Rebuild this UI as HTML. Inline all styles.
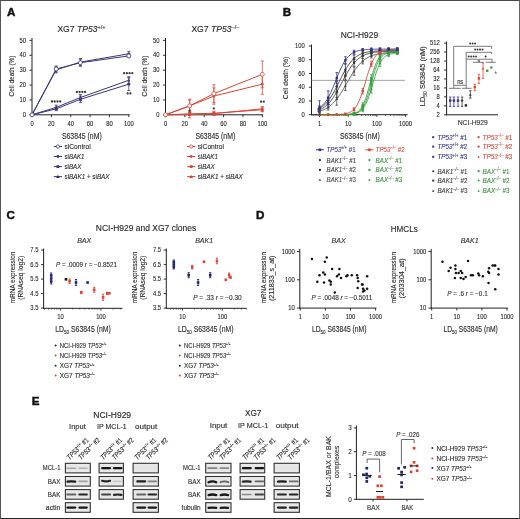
<!DOCTYPE html>
<html><head><meta charset="utf-8"><style>
html,body{margin:0;padding:0;background:#fff;}
body{width:520px;height:519px;overflow:hidden;position:relative;}
svg{position:absolute;left:0;top:0;display:block;font-family:"Liberation Sans",sans-serif;will-change:transform;filter:blur(0.3px);}
.frame{position:absolute;left:0;top:0;width:518px;height:517px;border-style:solid;border-width:1px;border-color:#4a4a4a #666 #262626 #555;}
</style></head><body>
<svg width="520" height="519" viewBox="0 0 520 519">
<defs><filter id="bl" filterUnits="userSpaceOnUse" x="0" y="380" width="520" height="139"><feGaussianBlur stdDeviation="0.5"/></filter><linearGradient id="bg" x1="0" y1="0" x2="0" y2="1"><stop offset="0" stop-color="#ececec"/><stop offset="0.5" stop-color="#e3e3e3"/><stop offset="1" stop-color="#ececec"/></linearGradient></defs>
<rect x="0" y="0" width="520" height="519" fill="#fff"/>
<text x="6.90" y="16.10" font-size="11.6" fill="#111" font-weight="bold" stroke="#111" stroke-width="0.45">A</text>
<text x="282.70" y="16.30" font-size="11.6" fill="#111" font-weight="bold" stroke="#111" stroke-width="0.45">B</text>
<text x="6.50" y="219.00" font-size="11.6" fill="#111" font-weight="bold" stroke="#111" stroke-width="0.45">C</text>
<text x="255.90" y="219.00" font-size="11.6" fill="#111" font-weight="bold" stroke="#111" stroke-width="0.45">D</text>
<text x="31.70" y="404.80" font-size="11.6" fill="#111" font-weight="bold" stroke="#111" stroke-width="0.45">E</text>
<text x="57.4" y="32.2" font-size="8.6" fill="#231f20" stroke="#231f20" stroke-width="0.12">XG7 <tspan font-style="italic">TP53</tspan><tspan font-size="5.6" dy="-3.2">+/+</tspan></text>
<text x="191.4" y="32.2" font-size="8.6" fill="#231f20" stroke="#231f20" stroke-width="0.12">XG7 <tspan font-style="italic">TP53</tspan><tspan font-size="5.6" dy="-3.2">&#8211;/&#8211;</tspan></text>
<line x1="32.00" y1="38.00" x2="32.00" y2="115.30" stroke="#231f20" stroke-width="1" />
<line x1="31.50" y1="114.80" x2="129.60" y2="114.80" stroke="#231f20" stroke-width="1" />
<line x1="29.40" y1="114.80" x2="32.00" y2="114.80" stroke="#231f20" stroke-width="0.9" />
<text x="26.00" y="116.90" font-size="7.0" fill="#2a2a2a" text-anchor="end" textLength="3.25" lengthAdjust="spacingAndGlyphs"  stroke="#2a2a2a" stroke-width="0.12">0</text>
<line x1="29.40" y1="99.92" x2="32.00" y2="99.92" stroke="#231f20" stroke-width="0.9" />
<text x="26.00" y="102.02" font-size="7.0" fill="#2a2a2a" text-anchor="end" textLength="6.50" lengthAdjust="spacingAndGlyphs"  stroke="#2a2a2a" stroke-width="0.12">10</text>
<line x1="29.40" y1="85.04" x2="32.00" y2="85.04" stroke="#231f20" stroke-width="0.9" />
<text x="26.00" y="87.14" font-size="7.0" fill="#2a2a2a" text-anchor="end" textLength="6.50" lengthAdjust="spacingAndGlyphs"  stroke="#2a2a2a" stroke-width="0.12">20</text>
<line x1="29.40" y1="70.16" x2="32.00" y2="70.16" stroke="#231f20" stroke-width="0.9" />
<text x="26.00" y="72.26" font-size="7.0" fill="#2a2a2a" text-anchor="end" textLength="6.50" lengthAdjust="spacingAndGlyphs"  stroke="#2a2a2a" stroke-width="0.12">30</text>
<line x1="29.40" y1="55.28" x2="32.00" y2="55.28" stroke="#231f20" stroke-width="0.9" />
<text x="26.00" y="57.38" font-size="7.0" fill="#2a2a2a" text-anchor="end" textLength="6.50" lengthAdjust="spacingAndGlyphs"  stroke="#2a2a2a" stroke-width="0.12">40</text>
<line x1="29.40" y1="40.40" x2="32.00" y2="40.40" stroke="#231f20" stroke-width="0.9" />
<text x="26.00" y="42.50" font-size="7.0" fill="#2a2a2a" text-anchor="end" textLength="6.50" lengthAdjust="spacingAndGlyphs"  stroke="#2a2a2a" stroke-width="0.12">50</text>
<line x1="32.00" y1="114.80" x2="32.00" y2="117.20" stroke="#231f20" stroke-width="0.9" />
<text x="32.00" y="125.80" font-size="7.0" fill="#2a2a2a" text-anchor="middle" textLength="3.25" lengthAdjust="spacingAndGlyphs"  stroke="#2a2a2a" stroke-width="0.12">0</text>
<line x1="51.36" y1="114.80" x2="51.36" y2="117.20" stroke="#231f20" stroke-width="0.9" />
<text x="51.36" y="125.80" font-size="7.0" fill="#2a2a2a" text-anchor="middle" textLength="6.50" lengthAdjust="spacingAndGlyphs"  stroke="#2a2a2a" stroke-width="0.12">20</text>
<line x1="70.72" y1="114.80" x2="70.72" y2="117.20" stroke="#231f20" stroke-width="0.9" />
<text x="70.72" y="125.80" font-size="7.0" fill="#2a2a2a" text-anchor="middle" textLength="6.50" lengthAdjust="spacingAndGlyphs"  stroke="#2a2a2a" stroke-width="0.12">40</text>
<line x1="90.08" y1="114.80" x2="90.08" y2="117.20" stroke="#231f20" stroke-width="0.9" />
<text x="90.08" y="125.80" font-size="7.0" fill="#2a2a2a" text-anchor="middle" textLength="6.50" lengthAdjust="spacingAndGlyphs"  stroke="#2a2a2a" stroke-width="0.12">60</text>
<line x1="109.44" y1="114.80" x2="109.44" y2="117.20" stroke="#231f20" stroke-width="0.9" />
<text x="109.44" y="125.80" font-size="7.0" fill="#2a2a2a" text-anchor="middle" textLength="6.50" lengthAdjust="spacingAndGlyphs"  stroke="#2a2a2a" stroke-width="0.12">80</text>
<line x1="128.80" y1="114.80" x2="128.80" y2="117.20" stroke="#231f20" stroke-width="0.9" />
<text x="128.80" y="125.80" font-size="7.0" fill="#2a2a2a" text-anchor="middle" textLength="9.75" lengthAdjust="spacingAndGlyphs"  stroke="#2a2a2a" stroke-width="0.12">100</text>
<text x="13.80" y="76.00" font-size="8.0" fill="#2a2a2a" text-anchor="middle" textLength="41.00" lengthAdjust="spacingAndGlyphs" transform="rotate(-90 13.80 76.00)"  stroke="#2a2a2a" stroke-width="0.12">Cell death (%)</text>
<text x="81.80" y="138.60" font-size="9.0" fill="#2a2a2a" text-anchor="middle" textLength="39.80" lengthAdjust="spacingAndGlyphs"  stroke="#2a2a2a" stroke-width="0.12">S63845 (nM)</text>
<polyline points="32.00,114.80 56.20,68.97 80.40,62.72 128.80,55.88" fill="none" stroke="#38377a" stroke-width="1.0" />
<polyline points="32.00,114.80 56.20,69.86 80.40,62.12 128.80,53.79" fill="none" stroke="#38377a" stroke-width="1.0" />
<polyline points="32.00,114.80 56.20,108.85 80.40,99.32 128.80,84.15" fill="none" stroke="#38377a" stroke-width="1.0" />
<polyline points="32.00,114.80 56.20,107.36 80.40,97.54 128.80,80.28" fill="none" stroke="#38377a" stroke-width="1.0" />
<line x1="56.20" y1="65.99" x2="56.20" y2="71.95" stroke="#38377a" stroke-width="0.75" />
<line x1="54.60" y1="65.99" x2="57.80" y2="65.99" stroke="#38377a" stroke-width="0.75" />
<line x1="54.60" y1="71.95" x2="57.80" y2="71.95" stroke="#38377a" stroke-width="0.75" />
<line x1="80.40" y1="59.15" x2="80.40" y2="66.29" stroke="#38377a" stroke-width="0.75" />
<line x1="78.80" y1="59.15" x2="82.00" y2="59.15" stroke="#38377a" stroke-width="0.75" />
<line x1="78.80" y1="66.29" x2="82.00" y2="66.29" stroke="#38377a" stroke-width="0.75" />
<line x1="128.80" y1="54.09" x2="128.80" y2="57.66" stroke="#38377a" stroke-width="0.75" />
<line x1="127.20" y1="54.09" x2="130.40" y2="54.09" stroke="#38377a" stroke-width="0.75" />
<line x1="127.20" y1="57.66" x2="130.40" y2="57.66" stroke="#38377a" stroke-width="0.75" />
<line x1="56.20" y1="66.89" x2="56.20" y2="72.84" stroke="#38377a" stroke-width="0.75" />
<line x1="54.60" y1="66.89" x2="57.80" y2="66.89" stroke="#38377a" stroke-width="0.75" />
<line x1="54.60" y1="72.84" x2="57.80" y2="72.84" stroke="#38377a" stroke-width="0.75" />
<line x1="80.40" y1="58.55" x2="80.40" y2="65.70" stroke="#38377a" stroke-width="0.75" />
<line x1="78.80" y1="58.55" x2="82.00" y2="58.55" stroke="#38377a" stroke-width="0.75" />
<line x1="78.80" y1="65.70" x2="82.00" y2="65.70" stroke="#38377a" stroke-width="0.75" />
<line x1="128.80" y1="51.41" x2="128.80" y2="56.17" stroke="#38377a" stroke-width="0.75" />
<line x1="127.20" y1="51.41" x2="130.40" y2="51.41" stroke="#38377a" stroke-width="0.75" />
<line x1="127.20" y1="56.17" x2="130.40" y2="56.17" stroke="#38377a" stroke-width="0.75" />
<line x1="56.20" y1="107.06" x2="56.20" y2="110.63" stroke="#38377a" stroke-width="0.75" />
<line x1="54.60" y1="107.06" x2="57.80" y2="107.06" stroke="#38377a" stroke-width="0.75" />
<line x1="54.60" y1="110.63" x2="57.80" y2="110.63" stroke="#38377a" stroke-width="0.75" />
<line x1="80.40" y1="96.05" x2="80.40" y2="102.60" stroke="#38377a" stroke-width="0.75" />
<line x1="78.80" y1="96.05" x2="82.00" y2="96.05" stroke="#38377a" stroke-width="0.75" />
<line x1="78.80" y1="102.60" x2="82.00" y2="102.60" stroke="#38377a" stroke-width="0.75" />
<line x1="128.80" y1="77.75" x2="128.80" y2="90.55" stroke="#38377a" stroke-width="0.75" />
<line x1="127.20" y1="77.75" x2="130.40" y2="77.75" stroke="#38377a" stroke-width="0.75" />
<line x1="127.20" y1="90.55" x2="130.40" y2="90.55" stroke="#38377a" stroke-width="0.75" />
<line x1="56.20" y1="105.13" x2="56.20" y2="109.59" stroke="#38377a" stroke-width="0.75" />
<line x1="54.60" y1="105.13" x2="57.80" y2="105.13" stroke="#38377a" stroke-width="0.75" />
<line x1="54.60" y1="109.59" x2="57.80" y2="109.59" stroke="#38377a" stroke-width="0.75" />
<line x1="80.40" y1="94.56" x2="80.40" y2="100.52" stroke="#38377a" stroke-width="0.75" />
<line x1="78.80" y1="94.56" x2="82.00" y2="94.56" stroke="#38377a" stroke-width="0.75" />
<line x1="78.80" y1="100.52" x2="82.00" y2="100.52" stroke="#38377a" stroke-width="0.75" />
<line x1="128.80" y1="76.71" x2="128.80" y2="83.85" stroke="#38377a" stroke-width="0.75" />
<line x1="127.20" y1="76.71" x2="130.40" y2="76.71" stroke="#38377a" stroke-width="0.75" />
<line x1="127.20" y1="83.85" x2="130.40" y2="83.85" stroke="#38377a" stroke-width="0.75" />
<path d="M56.20,105.76 l1.6,2.8 h-3.2z" fill="#38377a"/>
<path d="M80.40,95.94 l1.6,2.8 h-3.2z" fill="#38377a"/>
<path d="M128.80,78.68 l1.6,2.8 h-3.2z" fill="#38377a"/>
<rect x="54.90" y="107.55" width="2.60" height="2.60" fill="#38377a" />
<rect x="79.10" y="98.02" width="2.60" height="2.60" fill="#38377a" />
<rect x="127.50" y="82.85" width="2.60" height="2.60" fill="#38377a" />
<circle cx="56.20" cy="69.86" r="1.3" fill="#38377a"/>
<circle cx="80.40" cy="62.12" r="1.3" fill="#38377a"/>
<circle cx="128.80" cy="53.79" r="1.3" fill="#38377a"/>
<circle cx="56.20" cy="68.97" r="2.0" fill="#fff" stroke="#38377a" stroke-width="0.8"/>
<circle cx="80.40" cy="62.72" r="2.0" fill="#fff" stroke="#38377a" stroke-width="0.8"/>
<circle cx="128.80" cy="55.88" r="2.0" fill="#fff" stroke="#38377a" stroke-width="0.8"/>
<circle cx="32.00" cy="114.80" r="2.0" fill="#fff" stroke="#38377a" stroke-width="0.8"/>
<circle cx="51.98" cy="101.50" r="1.15" fill="#3a3a3a"/>
<circle cx="54.73" cy="101.50" r="1.15" fill="#3a3a3a"/>
<circle cx="57.48" cy="101.50" r="1.15" fill="#3a3a3a"/>
<circle cx="60.23" cy="101.50" r="1.15" fill="#3a3a3a"/>
<circle cx="76.88" cy="92.00" r="1.15" fill="#3a3a3a"/>
<circle cx="79.62" cy="92.00" r="1.15" fill="#3a3a3a"/>
<circle cx="82.38" cy="92.00" r="1.15" fill="#3a3a3a"/>
<circle cx="85.12" cy="92.00" r="1.15" fill="#3a3a3a"/>
<circle cx="124.07" cy="73.20" r="1.15" fill="#3a3a3a"/>
<circle cx="126.82" cy="73.20" r="1.15" fill="#3a3a3a"/>
<circle cx="129.57" cy="73.20" r="1.15" fill="#3a3a3a"/>
<circle cx="132.32" cy="73.20" r="1.15" fill="#3a3a3a"/>
<circle cx="127.62" cy="93.40" r="1.15" fill="#3a3a3a"/>
<circle cx="130.38" cy="93.40" r="1.15" fill="#3a3a3a"/>
<line x1="53.80" y1="146.50" x2="62.00" y2="146.50" stroke="#38377a" stroke-width="1" />
<circle cx="57.90" cy="146.50" r="1.6" fill="#fff" stroke="#38377a" stroke-width="0.8"/>
<text x="64.50" y="149.20" font-size="7.8" fill="#2a2a2a" textLength="26.20" lengthAdjust="spacingAndGlyphs"  stroke="#2a2a2a" stroke-width="0.12">siControl</text>
<line x1="53.80" y1="156.50" x2="62.00" y2="156.50" stroke="#38377a" stroke-width="1" />
<circle cx="57.90" cy="156.50" r="1.4" fill="#38377a"/>
<text x="64.50" y="159.20" font-size="7.8" fill="#2a2a2a" textLength="20.00" lengthAdjust="spacingAndGlyphs"  stroke="#2a2a2a" stroke-width="0.12">si<tspan font-style="italic">BAK1</tspan></text>
<line x1="53.80" y1="166.60" x2="62.00" y2="166.60" stroke="#38377a" stroke-width="1" />
<rect x="56.50" y="165.20" width="2.80" height="2.80" fill="#38377a" />
<text x="64.50" y="169.30" font-size="7.8" fill="#2a2a2a" textLength="16.90" lengthAdjust="spacingAndGlyphs"  stroke="#2a2a2a" stroke-width="0.12">si<tspan font-style="italic">BAX</tspan></text>
<line x1="53.80" y1="176.60" x2="62.00" y2="176.60" stroke="#38377a" stroke-width="1" />
<path d="M57.90,174.80 l1.8,3.1 h-3.6z" fill="#38377a"/>
<text x="64.50" y="179.30" font-size="7.8" fill="#2a2a2a" textLength="45.00" lengthAdjust="spacingAndGlyphs"  stroke="#2a2a2a" stroke-width="0.12">si<tspan font-style="italic">BAK1</tspan> + si<tspan font-style="italic">BAX</tspan></text>
<line x1="165.50" y1="38.00" x2="165.50" y2="115.30" stroke="#231f20" stroke-width="1" />
<line x1="165.00" y1="114.80" x2="263.10" y2="114.80" stroke="#231f20" stroke-width="1" />
<line x1="162.90" y1="114.80" x2="165.50" y2="114.80" stroke="#231f20" stroke-width="0.9" />
<text x="159.50" y="116.90" font-size="7.0" fill="#2a2a2a" text-anchor="end" textLength="3.25" lengthAdjust="spacingAndGlyphs"  stroke="#2a2a2a" stroke-width="0.12">0</text>
<line x1="162.90" y1="99.92" x2="165.50" y2="99.92" stroke="#231f20" stroke-width="0.9" />
<text x="159.50" y="102.02" font-size="7.0" fill="#2a2a2a" text-anchor="end" textLength="6.50" lengthAdjust="spacingAndGlyphs"  stroke="#2a2a2a" stroke-width="0.12">10</text>
<line x1="162.90" y1="85.04" x2="165.50" y2="85.04" stroke="#231f20" stroke-width="0.9" />
<text x="159.50" y="87.14" font-size="7.0" fill="#2a2a2a" text-anchor="end" textLength="6.50" lengthAdjust="spacingAndGlyphs"  stroke="#2a2a2a" stroke-width="0.12">20</text>
<line x1="162.90" y1="70.16" x2="165.50" y2="70.16" stroke="#231f20" stroke-width="0.9" />
<text x="159.50" y="72.26" font-size="7.0" fill="#2a2a2a" text-anchor="end" textLength="6.50" lengthAdjust="spacingAndGlyphs"  stroke="#2a2a2a" stroke-width="0.12">30</text>
<line x1="162.90" y1="55.28" x2="165.50" y2="55.28" stroke="#231f20" stroke-width="0.9" />
<text x="159.50" y="57.38" font-size="7.0" fill="#2a2a2a" text-anchor="end" textLength="6.50" lengthAdjust="spacingAndGlyphs"  stroke="#2a2a2a" stroke-width="0.12">40</text>
<line x1="162.90" y1="40.40" x2="165.50" y2="40.40" stroke="#231f20" stroke-width="0.9" />
<text x="159.50" y="42.50" font-size="7.0" fill="#2a2a2a" text-anchor="end" textLength="6.50" lengthAdjust="spacingAndGlyphs"  stroke="#2a2a2a" stroke-width="0.12">50</text>
<line x1="165.50" y1="114.80" x2="165.50" y2="117.20" stroke="#231f20" stroke-width="0.9" />
<text x="165.50" y="125.80" font-size="7.0" fill="#2a2a2a" text-anchor="middle" textLength="3.25" lengthAdjust="spacingAndGlyphs"  stroke="#2a2a2a" stroke-width="0.12">0</text>
<line x1="184.86" y1="114.80" x2="184.86" y2="117.20" stroke="#231f20" stroke-width="0.9" />
<text x="184.86" y="125.80" font-size="7.0" fill="#2a2a2a" text-anchor="middle" textLength="6.50" lengthAdjust="spacingAndGlyphs"  stroke="#2a2a2a" stroke-width="0.12">20</text>
<line x1="204.22" y1="114.80" x2="204.22" y2="117.20" stroke="#231f20" stroke-width="0.9" />
<text x="204.22" y="125.80" font-size="7.0" fill="#2a2a2a" text-anchor="middle" textLength="6.50" lengthAdjust="spacingAndGlyphs"  stroke="#2a2a2a" stroke-width="0.12">40</text>
<line x1="223.58" y1="114.80" x2="223.58" y2="117.20" stroke="#231f20" stroke-width="0.9" />
<text x="223.58" y="125.80" font-size="7.0" fill="#2a2a2a" text-anchor="middle" textLength="6.50" lengthAdjust="spacingAndGlyphs"  stroke="#2a2a2a" stroke-width="0.12">60</text>
<line x1="242.94" y1="114.80" x2="242.94" y2="117.20" stroke="#231f20" stroke-width="0.9" />
<text x="242.94" y="125.80" font-size="7.0" fill="#2a2a2a" text-anchor="middle" textLength="6.50" lengthAdjust="spacingAndGlyphs"  stroke="#2a2a2a" stroke-width="0.12">80</text>
<line x1="262.30" y1="114.80" x2="262.30" y2="117.20" stroke="#231f20" stroke-width="0.9" />
<text x="262.30" y="125.80" font-size="7.0" fill="#2a2a2a" text-anchor="middle" textLength="9.75" lengthAdjust="spacingAndGlyphs"  stroke="#2a2a2a" stroke-width="0.12">100</text>
<text x="147.30" y="76.00" font-size="8.0" fill="#2a2a2a" text-anchor="middle" textLength="41.00" lengthAdjust="spacingAndGlyphs" transform="rotate(-90 147.30 76.00)"  stroke="#2a2a2a" stroke-width="0.12">Cell death (%)</text>
<text x="215.30" y="138.60" font-size="9.0" fill="#2a2a2a" text-anchor="middle" textLength="39.80" lengthAdjust="spacingAndGlyphs"  stroke="#2a2a2a" stroke-width="0.12">S63845 (nM)</text>
<polyline points="165.50,114.80 189.70,105.87 213.90,93.67 262.30,74.33" fill="none" stroke="#dc4535" stroke-width="1.0" />
<polyline points="165.50,114.80 189.70,105.87 213.90,96.05 262.30,84.15" fill="none" stroke="#dc4535" stroke-width="1.0" />
<polyline points="165.50,114.80 189.70,113.91 213.90,113.31 262.30,109.74" fill="none" stroke="#dc4535" stroke-width="1.0" />
<polyline points="165.50,114.80 189.70,114.35 213.90,113.61 262.30,108.85" fill="none" stroke="#dc4535" stroke-width="1.0" />
<line x1="189.70" y1="99.18" x2="189.70" y2="112.57" stroke="#dc4535" stroke-width="0.75" />
<line x1="188.10" y1="99.18" x2="191.30" y2="99.18" stroke="#dc4535" stroke-width="0.75" />
<line x1="188.10" y1="112.57" x2="191.30" y2="112.57" stroke="#dc4535" stroke-width="0.75" />
<line x1="213.90" y1="84.74" x2="213.90" y2="102.60" stroke="#dc4535" stroke-width="0.75" />
<line x1="212.30" y1="84.74" x2="215.50" y2="84.74" stroke="#dc4535" stroke-width="0.75" />
<line x1="212.30" y1="102.60" x2="215.50" y2="102.60" stroke="#dc4535" stroke-width="0.75" />
<line x1="262.30" y1="60.93" x2="262.30" y2="87.72" stroke="#dc4535" stroke-width="0.75" />
<line x1="260.70" y1="60.93" x2="263.90" y2="60.93" stroke="#dc4535" stroke-width="0.75" />
<line x1="260.70" y1="87.72" x2="263.90" y2="87.72" stroke="#dc4535" stroke-width="0.75" />
<line x1="189.70" y1="99.92" x2="189.70" y2="111.82" stroke="#dc4535" stroke-width="0.75" />
<line x1="188.10" y1="99.92" x2="191.30" y2="99.92" stroke="#dc4535" stroke-width="0.75" />
<line x1="188.10" y1="111.82" x2="191.30" y2="111.82" stroke="#dc4535" stroke-width="0.75" />
<line x1="213.90" y1="87.87" x2="213.90" y2="104.24" stroke="#dc4535" stroke-width="0.75" />
<line x1="212.30" y1="87.87" x2="215.50" y2="87.87" stroke="#dc4535" stroke-width="0.75" />
<line x1="212.30" y1="104.24" x2="215.50" y2="104.24" stroke="#dc4535" stroke-width="0.75" />
<line x1="262.30" y1="74.03" x2="262.30" y2="94.27" stroke="#dc4535" stroke-width="0.75" />
<line x1="260.70" y1="74.03" x2="263.90" y2="74.03" stroke="#dc4535" stroke-width="0.75" />
<line x1="260.70" y1="94.27" x2="263.90" y2="94.27" stroke="#dc4535" stroke-width="0.75" />
<line x1="189.70" y1="112.42" x2="189.70" y2="115.40" stroke="#dc4535" stroke-width="0.75" />
<line x1="188.10" y1="112.42" x2="191.30" y2="112.42" stroke="#dc4535" stroke-width="0.75" />
<line x1="188.10" y1="115.40" x2="191.30" y2="115.40" stroke="#dc4535" stroke-width="0.75" />
<line x1="213.90" y1="111.23" x2="213.90" y2="115.40" stroke="#dc4535" stroke-width="0.75" />
<line x1="212.30" y1="111.23" x2="215.50" y2="111.23" stroke="#dc4535" stroke-width="0.75" />
<line x1="212.30" y1="115.40" x2="215.50" y2="115.40" stroke="#dc4535" stroke-width="0.75" />
<line x1="262.30" y1="107.66" x2="262.30" y2="111.82" stroke="#dc4535" stroke-width="0.75" />
<line x1="260.70" y1="107.66" x2="263.90" y2="107.66" stroke="#dc4535" stroke-width="0.75" />
<line x1="260.70" y1="111.82" x2="263.90" y2="111.82" stroke="#dc4535" stroke-width="0.75" />
<line x1="189.70" y1="110.78" x2="189.70" y2="117.92" stroke="#dc4535" stroke-width="0.75" />
<line x1="188.10" y1="110.78" x2="191.30" y2="110.78" stroke="#dc4535" stroke-width="0.75" />
<line x1="188.10" y1="117.92" x2="191.30" y2="117.92" stroke="#dc4535" stroke-width="0.75" />
<line x1="213.90" y1="112.12" x2="213.90" y2="115.10" stroke="#dc4535" stroke-width="0.75" />
<line x1="212.30" y1="112.12" x2="215.50" y2="112.12" stroke="#dc4535" stroke-width="0.75" />
<line x1="212.30" y1="115.10" x2="215.50" y2="115.10" stroke="#dc4535" stroke-width="0.75" />
<line x1="262.30" y1="106.47" x2="262.30" y2="111.23" stroke="#dc4535" stroke-width="0.75" />
<line x1="260.70" y1="106.47" x2="263.90" y2="106.47" stroke="#dc4535" stroke-width="0.75" />
<line x1="260.70" y1="111.23" x2="263.90" y2="111.23" stroke="#dc4535" stroke-width="0.75" />
<path d="M189.70,112.75 l1.6,2.8 h-3.2z" fill="#dc4535"/>
<path d="M213.90,112.01 l1.6,2.8 h-3.2z" fill="#dc4535"/>
<path d="M262.30,107.25 l1.6,2.8 h-3.2z" fill="#dc4535"/>
<rect x="188.40" y="112.61" width="2.60" height="2.60" fill="#dc4535" />
<rect x="212.60" y="112.01" width="2.60" height="2.60" fill="#dc4535" />
<rect x="261.00" y="108.44" width="2.60" height="2.60" fill="#dc4535" />
<circle cx="189.70" cy="105.87" r="1.3" fill="#dc4535"/>
<circle cx="213.90" cy="96.05" r="1.3" fill="#dc4535"/>
<circle cx="262.30" cy="84.15" r="1.3" fill="#dc4535"/>
<circle cx="189.70" cy="105.87" r="2.0" fill="#fff" stroke="#dc4535" stroke-width="0.8"/>
<circle cx="213.90" cy="93.67" r="2.0" fill="#fff" stroke="#dc4535" stroke-width="0.8"/>
<circle cx="262.30" cy="74.33" r="2.0" fill="#fff" stroke="#dc4535" stroke-width="0.8"/>
<circle cx="165.50" cy="114.80" r="2.0" fill="#fff" stroke="#dc4535" stroke-width="0.8"/>
<circle cx="189.70" cy="110.60" r="1.15" fill="#3a3a3a"/>
<circle cx="261.02" cy="101.70" r="1.15" fill="#3a3a3a"/>
<circle cx="263.77" cy="101.70" r="1.15" fill="#3a3a3a"/>
<circle cx="213.80" cy="108.40" r="1.15" fill="#3a3a3a"/>
<line x1="187.10" y1="146.50" x2="195.30" y2="146.50" stroke="#dc4535" stroke-width="1" />
<circle cx="191.20" cy="146.50" r="1.6" fill="#fff" stroke="#dc4535" stroke-width="0.8"/>
<text x="197.80" y="149.20" font-size="7.8" fill="#2a2a2a" textLength="26.20" lengthAdjust="spacingAndGlyphs"  stroke="#2a2a2a" stroke-width="0.12">siControl</text>
<line x1="187.10" y1="156.50" x2="195.30" y2="156.50" stroke="#dc4535" stroke-width="1" />
<circle cx="191.20" cy="156.50" r="1.4" fill="#dc4535"/>
<text x="197.80" y="159.20" font-size="7.8" fill="#2a2a2a" textLength="20.00" lengthAdjust="spacingAndGlyphs"  stroke="#2a2a2a" stroke-width="0.12">si<tspan font-style="italic">BAK1</tspan></text>
<line x1="187.10" y1="166.60" x2="195.30" y2="166.60" stroke="#dc4535" stroke-width="1" />
<rect x="189.80" y="165.20" width="2.80" height="2.80" fill="#dc4535" />
<text x="197.80" y="169.30" font-size="7.8" fill="#2a2a2a" textLength="16.90" lengthAdjust="spacingAndGlyphs"  stroke="#2a2a2a" stroke-width="0.12">si<tspan font-style="italic">BAX</tspan></text>
<line x1="187.10" y1="176.60" x2="195.30" y2="176.60" stroke="#dc4535" stroke-width="1" />
<path d="M191.20,174.80 l1.8,3.1 h-3.6z" fill="#dc4535"/>
<text x="197.80" y="179.30" font-size="7.8" fill="#2a2a2a" textLength="45.00" lengthAdjust="spacingAndGlyphs"  stroke="#2a2a2a" stroke-width="0.12">si<tspan font-style="italic">BAK1</tspan> + si<tspan font-style="italic">BAX</tspan></text>
<text x="359.40" y="37.80" font-size="8.6" fill="#231f20" text-anchor="middle" textLength="37.40" lengthAdjust="spacingAndGlyphs"  stroke="#231f20" stroke-width="0.12">NCI-H929</text>
<line x1="311.50" y1="44.50" x2="311.50" y2="115.20" stroke="#231f20" stroke-width="1" />
<line x1="311.00" y1="114.70" x2="407.60" y2="114.70" stroke="#231f20" stroke-width="1" />
<line x1="308.90" y1="114.70" x2="311.50" y2="114.70" stroke="#231f20" stroke-width="0.9" />
<text x="304.70" y="116.80" font-size="7.0" fill="#2a2a2a" text-anchor="end" textLength="3.25" lengthAdjust="spacingAndGlyphs"  stroke="#2a2a2a" stroke-width="0.12">0</text>
<line x1="308.90" y1="100.96" x2="311.50" y2="100.96" stroke="#231f20" stroke-width="0.9" />
<text x="304.70" y="103.06" font-size="7.0" fill="#2a2a2a" text-anchor="end" textLength="6.50" lengthAdjust="spacingAndGlyphs"  stroke="#2a2a2a" stroke-width="0.12">20</text>
<line x1="308.90" y1="87.22" x2="311.50" y2="87.22" stroke="#231f20" stroke-width="0.9" />
<text x="304.70" y="89.32" font-size="7.0" fill="#2a2a2a" text-anchor="end" textLength="6.50" lengthAdjust="spacingAndGlyphs"  stroke="#2a2a2a" stroke-width="0.12">40</text>
<line x1="308.90" y1="73.48" x2="311.50" y2="73.48" stroke="#231f20" stroke-width="0.9" />
<text x="304.70" y="75.58" font-size="7.0" fill="#2a2a2a" text-anchor="end" textLength="6.50" lengthAdjust="spacingAndGlyphs"  stroke="#2a2a2a" stroke-width="0.12">60</text>
<line x1="308.90" y1="59.74" x2="311.50" y2="59.74" stroke="#231f20" stroke-width="0.9" />
<text x="304.70" y="61.84" font-size="7.0" fill="#2a2a2a" text-anchor="end" textLength="6.50" lengthAdjust="spacingAndGlyphs"  stroke="#2a2a2a" stroke-width="0.12">80</text>
<line x1="308.90" y1="46.00" x2="311.50" y2="46.00" stroke="#231f20" stroke-width="0.9" />
<text x="304.70" y="48.10" font-size="7.0" fill="#2a2a2a" text-anchor="end" textLength="9.75" lengthAdjust="spacingAndGlyphs"  stroke="#2a2a2a" stroke-width="0.12">100</text>
<line x1="313.13" y1="114.70" x2="313.13" y2="116.00" stroke="#231f20" stroke-width="0.6" />
<line x1="315.05" y1="114.70" x2="315.05" y2="116.00" stroke="#231f20" stroke-width="0.6" />
<line x1="316.72" y1="114.70" x2="316.72" y2="116.00" stroke="#231f20" stroke-width="0.6" />
<line x1="318.19" y1="114.70" x2="318.19" y2="116.00" stroke="#231f20" stroke-width="0.6" />
<line x1="319.50" y1="114.70" x2="319.50" y2="117.10" stroke="#231f20" stroke-width="0.8" />
<line x1="328.14" y1="114.70" x2="328.14" y2="116.00" stroke="#231f20" stroke-width="0.6" />
<line x1="333.19" y1="114.70" x2="333.19" y2="116.00" stroke="#231f20" stroke-width="0.6" />
<line x1="336.78" y1="114.70" x2="336.78" y2="116.00" stroke="#231f20" stroke-width="0.6" />
<line x1="339.56" y1="114.70" x2="339.56" y2="116.00" stroke="#231f20" stroke-width="0.6" />
<line x1="341.83" y1="114.70" x2="341.83" y2="116.00" stroke="#231f20" stroke-width="0.6" />
<line x1="343.75" y1="114.70" x2="343.75" y2="116.00" stroke="#231f20" stroke-width="0.6" />
<line x1="345.42" y1="114.70" x2="345.42" y2="116.00" stroke="#231f20" stroke-width="0.6" />
<line x1="346.89" y1="114.70" x2="346.89" y2="116.00" stroke="#231f20" stroke-width="0.6" />
<line x1="348.20" y1="114.70" x2="348.20" y2="117.10" stroke="#231f20" stroke-width="0.8" />
<line x1="356.84" y1="114.70" x2="356.84" y2="116.00" stroke="#231f20" stroke-width="0.6" />
<line x1="361.89" y1="114.70" x2="361.89" y2="116.00" stroke="#231f20" stroke-width="0.6" />
<line x1="365.48" y1="114.70" x2="365.48" y2="116.00" stroke="#231f20" stroke-width="0.6" />
<line x1="368.26" y1="114.70" x2="368.26" y2="116.00" stroke="#231f20" stroke-width="0.6" />
<line x1="370.53" y1="114.70" x2="370.53" y2="116.00" stroke="#231f20" stroke-width="0.6" />
<line x1="372.45" y1="114.70" x2="372.45" y2="116.00" stroke="#231f20" stroke-width="0.6" />
<line x1="374.12" y1="114.70" x2="374.12" y2="116.00" stroke="#231f20" stroke-width="0.6" />
<line x1="375.59" y1="114.70" x2="375.59" y2="116.00" stroke="#231f20" stroke-width="0.6" />
<line x1="376.90" y1="114.70" x2="376.90" y2="117.10" stroke="#231f20" stroke-width="0.8" />
<line x1="385.54" y1="114.70" x2="385.54" y2="116.00" stroke="#231f20" stroke-width="0.6" />
<line x1="390.59" y1="114.70" x2="390.59" y2="116.00" stroke="#231f20" stroke-width="0.6" />
<line x1="394.18" y1="114.70" x2="394.18" y2="116.00" stroke="#231f20" stroke-width="0.6" />
<line x1="396.96" y1="114.70" x2="396.96" y2="116.00" stroke="#231f20" stroke-width="0.6" />
<line x1="399.23" y1="114.70" x2="399.23" y2="116.00" stroke="#231f20" stroke-width="0.6" />
<line x1="401.15" y1="114.70" x2="401.15" y2="116.00" stroke="#231f20" stroke-width="0.6" />
<line x1="402.82" y1="114.70" x2="402.82" y2="116.00" stroke="#231f20" stroke-width="0.6" />
<line x1="404.29" y1="114.70" x2="404.29" y2="116.00" stroke="#231f20" stroke-width="0.6" />
<line x1="405.60" y1="114.70" x2="405.60" y2="117.10" stroke="#231f20" stroke-width="0.8" />
<text x="319.50" y="125.80" font-size="7.0" fill="#2a2a2a" text-anchor="middle" textLength="3.25" lengthAdjust="spacingAndGlyphs"  stroke="#2a2a2a" stroke-width="0.12">1</text>
<text x="348.20" y="125.80" font-size="7.0" fill="#2a2a2a" text-anchor="middle" textLength="6.50" lengthAdjust="spacingAndGlyphs"  stroke="#2a2a2a" stroke-width="0.12">10</text>
<text x="376.90" y="125.80" font-size="7.0" fill="#2a2a2a" text-anchor="middle" textLength="9.75" lengthAdjust="spacingAndGlyphs"  stroke="#2a2a2a" stroke-width="0.12">100</text>
<text x="405.60" y="125.80" font-size="7.0" fill="#2a2a2a" text-anchor="middle" textLength="13.00" lengthAdjust="spacingAndGlyphs"  stroke="#2a2a2a" stroke-width="0.12">1000</text>
<text x="288.10" y="78.00" font-size="8.0" fill="#2a2a2a" text-anchor="middle" textLength="42.30" lengthAdjust="spacingAndGlyphs" transform="rotate(-90 288.10 78.00)"  stroke="#2a2a2a" stroke-width="0.12">Cell death (%)</text>
<text x="359.80" y="138.60" font-size="9.0" fill="#2a2a2a" text-anchor="middle" textLength="39.80" lengthAdjust="spacingAndGlyphs"  stroke="#2a2a2a" stroke-width="0.12">S63845 (nM)</text>
<line x1="311.50" y1="80.35" x2="405.00" y2="80.35" stroke="#8a8a8a" stroke-width="0.8" />
<polyline points="317.47,109.62 318.08,109.34 318.69,109.03 319.30,108.71 319.91,108.37 320.51,108.00 321.12,107.61 321.73,107.19 322.34,106.74 322.95,106.27 323.56,105.76 324.16,105.23 324.77,104.66 325.38,104.06 325.99,103.43 326.60,102.76 327.20,102.05 327.81,101.31 328.42,100.53 329.03,99.72 329.64,98.87 330.25,97.98 330.85,97.06 331.46,96.10 332.07,95.11 332.68,94.08 333.29,93.02 333.89,91.94 334.50,90.82 335.11,89.68 335.72,88.52 336.33,87.34 336.93,86.14 337.54,84.93 338.15,83.71 338.76,82.49 339.37,81.26 339.98,80.03 340.58,78.82 341.19,77.61 341.80,76.41 342.41,75.23 343.02,74.07 343.62,72.93 344.23,71.81 344.84,70.73 345.45,69.67 346.06,68.65 346.66,67.65 347.27,66.70 347.88,65.77 348.49,64.89 349.10,64.04 349.71,63.23 350.31,62.45 350.92,61.71 351.53,61.01 352.14,60.34 352.75,59.71 353.35,59.11 353.96,58.54 354.57,58.01 355.18,57.51 355.79,57.03 356.39,56.59 357.00,56.17 357.61,55.78 358.22,55.41 358.83,55.07 359.44,54.74 360.04,54.44 360.65,54.16 361.26,53.90 361.87,53.66 362.48,53.43 363.08,53.21 363.69,53.02 364.30,52.83 364.91,52.66 365.52,52.50 366.12,52.35 366.73,52.21 367.34,52.09 367.95,51.97 368.56,51.86 369.17,51.76 369.77,51.66 370.38,51.57 370.99,51.49 371.60,51.41 372.21,51.34 372.81,51.28 373.42,51.22 374.03,51.16 374.64,51.11 375.25,51.06 375.86,51.02 376.46,50.98 377.07,50.94 377.68,50.90 378.29,50.87 378.90,50.84 379.50,50.81 380.11,50.79 380.72,50.76 381.33,50.74 381.94,50.72 382.54,50.70 383.15,50.68 383.76,50.67 384.37,50.65 384.98,50.64 385.59,50.63 386.19,50.61 386.80,50.60 387.41,50.59 388.02,50.58 388.63,50.57 389.23,50.57 389.84,50.56 390.45,50.55 391.06,50.54 391.67,50.54 392.27,50.53 392.88,50.53 393.49,50.52 394.10,50.52 394.71,50.52 395.32,50.51 395.92,50.51 396.53,50.50 397.14,50.50 397.75,50.50 398.36,50.50" fill="none" stroke="#333" stroke-width="0.9" />
<line x1="319.50" y1="105.85" x2="319.50" y2="111.35" stroke="#333" stroke-width="0.8" />
<line x1="318.20" y1="105.85" x2="320.80" y2="105.85" stroke="#333" stroke-width="0.8" />
<line x1="318.20" y1="111.35" x2="320.80" y2="111.35" stroke="#333" stroke-width="0.8" />
<circle cx="319.50" cy="108.60" r="1.2" fill="#333"/>
<line x1="328.14" y1="97.46" x2="328.14" y2="104.33" stroke="#333" stroke-width="0.8" />
<line x1="326.84" y1="97.46" x2="329.44" y2="97.46" stroke="#333" stroke-width="0.8" />
<line x1="326.84" y1="104.33" x2="329.44" y2="104.33" stroke="#333" stroke-width="0.8" />
<circle cx="328.14" cy="100.90" r="1.2" fill="#333"/>
<line x1="336.78" y1="80.95" x2="336.78" y2="91.94" stroke="#333" stroke-width="0.8" />
<line x1="335.48" y1="80.95" x2="338.08" y2="80.95" stroke="#333" stroke-width="0.8" />
<line x1="335.48" y1="91.94" x2="338.08" y2="91.94" stroke="#333" stroke-width="0.8" />
<circle cx="336.78" cy="86.45" r="1.2" fill="#333"/>
<line x1="345.42" y1="64.23" x2="345.42" y2="75.22" stroke="#333" stroke-width="0.8" />
<line x1="344.12" y1="64.23" x2="346.72" y2="64.23" stroke="#333" stroke-width="0.8" />
<line x1="344.12" y1="75.22" x2="346.72" y2="75.22" stroke="#333" stroke-width="0.8" />
<circle cx="345.42" cy="69.72" r="1.2" fill="#333"/>
<line x1="354.06" y1="55.02" x2="354.06" y2="61.89" stroke="#333" stroke-width="0.8" />
<line x1="352.76" y1="55.02" x2="355.36" y2="55.02" stroke="#333" stroke-width="0.8" />
<line x1="352.76" y1="61.89" x2="355.36" y2="61.89" stroke="#333" stroke-width="0.8" />
<circle cx="354.06" cy="58.46" r="1.2" fill="#333"/>
<line x1="362.70" y1="50.60" x2="362.70" y2="56.10" stroke="#333" stroke-width="0.8" />
<line x1="361.40" y1="50.60" x2="364.00" y2="50.60" stroke="#333" stroke-width="0.8" />
<line x1="361.40" y1="56.10" x2="364.00" y2="56.10" stroke="#333" stroke-width="0.8" />
<circle cx="362.70" cy="53.35" r="1.2" fill="#333"/>
<line x1="371.34" y1="49.39" x2="371.34" y2="53.51" stroke="#333" stroke-width="0.8" />
<line x1="370.04" y1="49.39" x2="372.64" y2="49.39" stroke="#333" stroke-width="0.8" />
<line x1="370.04" y1="53.51" x2="372.64" y2="53.51" stroke="#333" stroke-width="0.8" />
<circle cx="371.34" cy="51.45" r="1.2" fill="#333"/>
<line x1="379.98" y1="49.42" x2="379.98" y2="52.17" stroke="#333" stroke-width="0.8" />
<line x1="378.68" y1="49.42" x2="381.28" y2="49.42" stroke="#333" stroke-width="0.8" />
<line x1="378.68" y1="52.17" x2="381.28" y2="52.17" stroke="#333" stroke-width="0.8" />
<circle cx="379.98" cy="50.79" r="1.2" fill="#333"/>
<line x1="388.62" y1="49.20" x2="388.62" y2="51.95" stroke="#333" stroke-width="0.8" />
<line x1="387.32" y1="49.20" x2="389.92" y2="49.20" stroke="#333" stroke-width="0.8" />
<line x1="387.32" y1="51.95" x2="389.92" y2="51.95" stroke="#333" stroke-width="0.8" />
<circle cx="388.62" cy="50.57" r="1.2" fill="#333"/>
<line x1="397.26" y1="49.13" x2="397.26" y2="51.88" stroke="#333" stroke-width="0.8" />
<line x1="395.96" y1="49.13" x2="398.56" y2="49.13" stroke="#333" stroke-width="0.8" />
<line x1="395.96" y1="51.88" x2="398.56" y2="51.88" stroke="#333" stroke-width="0.8" />
<circle cx="397.26" cy="50.50" r="1.2" fill="#333"/>
<polyline points="317.47,110.83 318.08,110.60 318.69,110.36 319.30,110.10 319.91,109.82 320.51,109.53 321.12,109.21 321.73,108.88 322.34,108.52 322.95,108.14 323.56,107.74 324.16,107.31 324.77,106.86 325.38,106.39 325.99,105.88 326.60,105.35 327.20,104.79 327.81,104.20 328.42,103.58 329.03,102.92 329.64,102.24 330.25,101.52 330.85,100.77 331.46,99.99 332.07,99.18 332.68,98.34 333.29,97.46 333.89,96.55 334.50,95.61 335.11,94.65 335.72,93.65 336.33,92.63 336.93,91.59 337.54,90.52 338.15,89.43 338.76,88.33 339.37,87.21 339.98,86.08 340.58,84.94 341.19,83.80 341.80,82.65 342.41,81.50 343.02,80.35 343.62,79.21 344.23,78.08 344.84,76.96 345.45,75.85 346.06,74.76 346.66,73.69 347.27,72.65 347.88,71.62 348.49,70.63 349.10,69.66 349.71,68.72 350.31,67.81 350.92,66.92 351.53,66.08 352.14,65.26 352.75,64.47 353.35,63.72 353.96,63.00 354.57,62.31 355.18,61.66 355.79,61.03 356.39,60.44 357.00,59.88 357.61,59.34 358.22,58.83 358.83,58.35 359.44,57.90 360.04,57.47 360.65,57.07 361.26,56.69 361.87,56.33 362.48,55.99 363.08,55.67 363.69,55.38 364.30,55.10 364.91,54.83 365.52,54.59 366.12,54.36 366.73,54.14 367.34,53.94 367.95,53.75 368.56,53.58 369.17,53.41 369.77,53.26 370.38,53.11 370.99,52.98 371.60,52.85 372.21,52.74 372.81,52.63 373.42,52.53 374.03,52.43 374.64,52.34 375.25,52.26 375.86,52.18 376.46,52.11 377.07,52.04 377.68,51.98 378.29,51.92 378.90,51.87 379.50,51.82 380.11,51.77 380.72,51.73 381.33,51.69 381.94,51.65 382.54,51.62 383.15,51.58 383.76,51.55 384.37,51.53 384.98,51.50 385.59,51.48 386.19,51.45 386.80,51.43 387.41,51.41 388.02,51.39 388.63,51.38 389.23,51.36 389.84,51.35 390.45,51.33 391.06,51.32 391.67,51.31 392.27,51.30 392.88,51.29 393.49,51.28 394.10,51.27 394.71,51.26 395.32,51.25 395.92,51.25 396.53,51.24 397.14,51.23 397.75,51.23 398.36,51.22" fill="none" stroke="#333" stroke-width="0.9" />
<line x1="319.50" y1="107.95" x2="319.50" y2="112.07" stroke="#333" stroke-width="0.8" />
<line x1="318.20" y1="107.95" x2="320.80" y2="107.95" stroke="#333" stroke-width="0.8" />
<line x1="318.20" y1="112.07" x2="320.80" y2="112.07" stroke="#333" stroke-width="0.8" />
<circle cx="319.50" cy="110.01" r="1.2" fill="#333"/>
<line x1="328.14" y1="100.43" x2="328.14" y2="107.30" stroke="#333" stroke-width="0.8" />
<line x1="326.84" y1="100.43" x2="329.44" y2="100.43" stroke="#333" stroke-width="0.8" />
<line x1="326.84" y1="107.30" x2="329.44" y2="107.30" stroke="#333" stroke-width="0.8" />
<circle cx="328.14" cy="103.87" r="1.2" fill="#333"/>
<line x1="336.78" y1="86.36" x2="336.78" y2="97.35" stroke="#333" stroke-width="0.8" />
<line x1="335.48" y1="86.36" x2="338.08" y2="86.36" stroke="#333" stroke-width="0.8" />
<line x1="335.48" y1="97.35" x2="338.08" y2="97.35" stroke="#333" stroke-width="0.8" />
<circle cx="336.78" cy="91.86" r="1.2" fill="#333"/>
<line x1="345.42" y1="71.78" x2="345.42" y2="80.03" stroke="#333" stroke-width="0.8" />
<line x1="344.12" y1="71.78" x2="346.72" y2="71.78" stroke="#333" stroke-width="0.8" />
<line x1="344.12" y1="80.03" x2="346.72" y2="80.03" stroke="#333" stroke-width="0.8" />
<circle cx="345.42" cy="75.90" r="1.2" fill="#333"/>
<line x1="354.06" y1="59.46" x2="354.06" y2="66.33" stroke="#333" stroke-width="0.8" />
<line x1="352.76" y1="59.46" x2="355.36" y2="59.46" stroke="#333" stroke-width="0.8" />
<line x1="352.76" y1="66.33" x2="355.36" y2="66.33" stroke="#333" stroke-width="0.8" />
<circle cx="354.06" cy="62.89" r="1.2" fill="#333"/>
<line x1="362.70" y1="53.12" x2="362.70" y2="58.62" stroke="#333" stroke-width="0.8" />
<line x1="361.40" y1="53.12" x2="364.00" y2="53.12" stroke="#333" stroke-width="0.8" />
<line x1="361.40" y1="58.62" x2="364.00" y2="58.62" stroke="#333" stroke-width="0.8" />
<circle cx="362.70" cy="55.87" r="1.2" fill="#333"/>
<line x1="371.34" y1="50.85" x2="371.34" y2="54.97" stroke="#333" stroke-width="0.8" />
<line x1="370.04" y1="50.85" x2="372.64" y2="50.85" stroke="#333" stroke-width="0.8" />
<line x1="370.04" y1="54.97" x2="372.64" y2="54.97" stroke="#333" stroke-width="0.8" />
<circle cx="371.34" cy="52.91" r="1.2" fill="#333"/>
<line x1="379.98" y1="50.41" x2="379.98" y2="53.16" stroke="#333" stroke-width="0.8" />
<line x1="378.68" y1="50.41" x2="381.28" y2="50.41" stroke="#333" stroke-width="0.8" />
<line x1="378.68" y1="53.16" x2="381.28" y2="53.16" stroke="#333" stroke-width="0.8" />
<circle cx="379.98" cy="51.78" r="1.2" fill="#333"/>
<line x1="388.62" y1="50.00" x2="388.62" y2="52.75" stroke="#333" stroke-width="0.8" />
<line x1="387.32" y1="50.00" x2="389.92" y2="50.00" stroke="#333" stroke-width="0.8" />
<line x1="387.32" y1="52.75" x2="389.92" y2="52.75" stroke="#333" stroke-width="0.8" />
<circle cx="388.62" cy="51.38" r="1.2" fill="#333"/>
<line x1="397.26" y1="49.86" x2="397.26" y2="52.61" stroke="#333" stroke-width="0.8" />
<line x1="395.96" y1="49.86" x2="398.56" y2="49.86" stroke="#333" stroke-width="0.8" />
<line x1="395.96" y1="52.61" x2="398.56" y2="52.61" stroke="#333" stroke-width="0.8" />
<circle cx="397.26" cy="51.23" r="1.2" fill="#333"/>
<polyline points="317.47,111.82 318.08,111.67 318.69,111.51 319.30,111.34 319.91,111.16 320.51,110.97 321.12,110.77 321.73,110.55 322.34,110.32 322.95,110.08 323.56,109.82 324.16,109.54 324.77,109.25 325.38,108.94 325.99,108.62 326.60,108.27 327.20,107.90 327.81,107.52 328.42,107.11 329.03,106.68 329.64,106.23 330.25,105.75 330.85,105.25 331.46,104.72 332.07,104.17 332.68,103.59 333.29,102.99 333.89,102.35 334.50,101.69 335.11,101.01 335.72,100.29 336.33,99.55 336.93,98.78 337.54,97.98 338.15,97.16 338.76,96.30 339.37,95.43 339.98,94.53 340.58,93.61 341.19,92.66 341.80,91.70 342.41,90.71 343.02,89.71 343.62,88.70 344.23,87.67 344.84,86.64 345.45,85.59 346.06,84.54 346.66,83.48 347.27,82.43 347.88,81.37 348.49,80.32 349.10,79.28 349.71,78.24 350.31,77.22 350.92,76.21 351.53,75.21 352.14,74.24 352.75,73.28 353.35,72.34 353.96,71.42 354.57,70.53 355.18,69.66 355.79,68.82 356.39,68.00 357.00,67.21 357.61,66.44 358.22,65.71 358.83,65.00 359.44,64.32 360.04,63.67 360.65,63.04 361.26,62.45 361.87,61.87 362.48,61.33 363.08,60.81 363.69,60.31 364.30,59.84 364.91,59.40 365.52,58.97 366.12,58.57 366.73,58.19 367.34,57.83 367.95,57.49 368.56,57.17 369.17,56.86 369.77,56.58 370.38,56.31 370.99,56.05 371.60,55.81 372.21,55.58 372.81,55.37 373.42,55.17 374.03,54.98 374.64,54.80 375.25,54.64 375.86,54.48 376.46,54.34 377.07,54.20 377.68,54.07 378.29,53.95 378.90,53.84 379.50,53.73 380.11,53.63 380.72,53.54 381.33,53.45 381.94,53.37 382.54,53.29 383.15,53.22 383.76,53.15 384.37,53.09 384.98,53.03 385.59,52.97 386.19,52.92 386.80,52.87 387.41,52.83 388.02,52.79 388.63,52.75 389.23,52.71 389.84,52.68 390.45,52.64 391.06,52.61 391.67,52.58 392.27,52.56 392.88,52.53 393.49,52.51 394.10,52.49 394.71,52.47 395.32,52.45 395.92,52.43 396.53,52.42 397.14,52.40 397.75,52.39 398.36,52.37" fill="none" stroke="#444" stroke-width="0.9" />
<line x1="319.50" y1="109.91" x2="319.50" y2="112.66" stroke="#444" stroke-width="0.8" />
<line x1="318.20" y1="109.91" x2="320.80" y2="109.91" stroke="#444" stroke-width="0.8" />
<line x1="318.20" y1="112.66" x2="320.80" y2="112.66" stroke="#444" stroke-width="0.8" />
<path d="M319.50,109.79 l1.5,2.6 h-3z" fill="#444"/>
<line x1="328.14" y1="104.55" x2="328.14" y2="110.05" stroke="#444" stroke-width="0.8" />
<line x1="326.84" y1="104.55" x2="329.44" y2="104.55" stroke="#444" stroke-width="0.8" />
<line x1="326.84" y1="110.05" x2="329.44" y2="110.05" stroke="#444" stroke-width="0.8" />
<path d="M328.14,105.80 l1.5,2.6 h-3z" fill="#444"/>
<line x1="336.78" y1="92.79" x2="336.78" y2="105.16" stroke="#444" stroke-width="0.8" />
<line x1="335.48" y1="92.79" x2="338.08" y2="92.79" stroke="#444" stroke-width="0.8" />
<line x1="335.48" y1="105.16" x2="338.08" y2="105.16" stroke="#444" stroke-width="0.8" />
<path d="M336.78,97.48 l1.5,2.6 h-3z" fill="#444"/>
<line x1="345.42" y1="80.83" x2="345.42" y2="90.45" stroke="#444" stroke-width="0.8" />
<line x1="344.12" y1="80.83" x2="346.72" y2="80.83" stroke="#444" stroke-width="0.8" />
<line x1="344.12" y1="90.45" x2="346.72" y2="90.45" stroke="#444" stroke-width="0.8" />
<path d="M345.42,84.14 l1.5,2.6 h-3z" fill="#444"/>
<line x1="354.06" y1="67.16" x2="354.06" y2="75.40" stroke="#444" stroke-width="0.8" />
<line x1="352.76" y1="67.16" x2="355.36" y2="67.16" stroke="#444" stroke-width="0.8" />
<line x1="352.76" y1="75.40" x2="355.36" y2="75.40" stroke="#444" stroke-width="0.8" />
<path d="M354.06,69.78 l1.5,2.6 h-3z" fill="#444"/>
<line x1="362.70" y1="58.39" x2="362.70" y2="63.88" stroke="#444" stroke-width="0.8" />
<line x1="361.40" y1="58.39" x2="364.00" y2="58.39" stroke="#444" stroke-width="0.8" />
<line x1="361.40" y1="63.88" x2="364.00" y2="63.88" stroke="#444" stroke-width="0.8" />
<path d="M362.70,59.64 l1.5,2.6 h-3z" fill="#444"/>
<line x1="371.34" y1="53.85" x2="371.34" y2="57.97" stroke="#444" stroke-width="0.8" />
<line x1="370.04" y1="53.85" x2="372.64" y2="53.85" stroke="#444" stroke-width="0.8" />
<line x1="370.04" y1="57.97" x2="372.64" y2="57.97" stroke="#444" stroke-width="0.8" />
<path d="M371.34,54.41 l1.5,2.6 h-3z" fill="#444"/>
<line x1="379.98" y1="52.28" x2="379.98" y2="55.02" stroke="#444" stroke-width="0.8" />
<line x1="378.68" y1="52.28" x2="381.28" y2="52.28" stroke="#444" stroke-width="0.8" />
<line x1="378.68" y1="55.02" x2="381.28" y2="55.02" stroke="#444" stroke-width="0.8" />
<path d="M379.98,52.15 l1.5,2.6 h-3z" fill="#444"/>
<line x1="388.62" y1="51.37" x2="388.62" y2="54.12" stroke="#444" stroke-width="0.8" />
<line x1="387.32" y1="51.37" x2="389.92" y2="51.37" stroke="#444" stroke-width="0.8" />
<line x1="387.32" y1="54.12" x2="389.92" y2="54.12" stroke="#444" stroke-width="0.8" />
<path d="M388.62,51.25 l1.5,2.6 h-3z" fill="#444"/>
<line x1="397.26" y1="51.02" x2="397.26" y2="53.77" stroke="#444" stroke-width="0.8" />
<line x1="395.96" y1="51.02" x2="398.56" y2="51.02" stroke="#444" stroke-width="0.8" />
<line x1="395.96" y1="53.77" x2="398.56" y2="53.77" stroke="#444" stroke-width="0.8" />
<path d="M397.26,50.90 l1.5,2.6 h-3z" fill="#444"/>
<polyline points="317.47,114.70 318.08,114.70 318.69,114.70 319.30,114.70 319.91,114.70 320.51,114.70 321.12,114.70 321.73,114.70 322.34,114.70 322.95,114.70 323.56,114.70 324.16,114.70 324.77,114.70 325.38,114.70 325.99,114.70 326.60,114.70 327.20,114.70 327.81,114.70 328.42,114.70 329.03,114.70 329.64,114.70 330.25,114.70 330.85,114.69 331.46,114.69 332.07,114.69 332.68,114.69 333.29,114.69 333.89,114.69 334.50,114.69 335.11,114.69 335.72,114.68 336.33,114.68 336.93,114.68 337.54,114.67 338.15,114.67 338.76,114.67 339.37,114.66 339.98,114.66 340.58,114.65 341.19,114.64 341.80,114.63 342.41,114.62 343.02,114.61 343.62,114.59 344.23,114.57 344.84,114.56 345.45,114.53 346.06,114.51 346.66,114.48 347.27,114.44 347.88,114.40 348.49,114.35 349.10,114.30 349.71,114.24 350.31,114.16 350.92,114.08 351.53,113.98 352.14,113.87 352.75,113.74 353.35,113.59 353.96,113.42 354.57,113.23 355.18,113.00 355.79,112.74 356.39,112.44 357.00,112.10 357.61,111.71 358.22,111.26 358.83,110.76 359.44,110.18 360.04,109.52 360.65,108.78 361.26,107.95 361.87,107.02 362.48,105.97 363.08,104.81 363.69,103.53 364.30,102.11 364.91,100.57 365.52,98.90 366.12,97.10 366.73,95.17 367.34,93.14 367.95,91.01 368.56,88.80 369.17,86.52 369.77,84.21 370.38,81.89 370.99,79.58 371.60,77.30 372.21,75.08 372.81,72.94 373.42,70.89 374.03,68.96 374.64,67.14 375.25,65.46 375.86,63.90 376.46,62.47 377.07,61.17 377.68,60.00 378.29,58.94 378.90,58.00 379.50,57.15 380.11,56.40 380.72,55.74 381.33,55.15 381.94,54.64 382.54,54.19 383.15,53.79 383.76,53.44 384.37,53.14 384.98,52.88 385.59,52.65 386.19,52.45 386.80,52.28 387.41,52.13 388.02,51.99 388.63,51.88 389.23,51.78 389.84,51.70 390.45,51.62 391.06,51.56 391.67,51.51 392.27,51.46 392.88,51.42 393.49,51.38 394.10,51.35 394.71,51.32 395.32,51.30 395.92,51.28 396.53,51.26 397.14,51.25 397.75,51.23 398.36,51.22" fill="none" stroke="#33a03e" stroke-width="0.9" />
<rect x="318.30" y="113.50" width="2.40" height="2.40" fill="#33a03e" />
<rect x="326.94" y="113.50" width="2.40" height="2.40" fill="#33a03e" />
<rect x="335.58" y="113.48" width="2.40" height="2.40" fill="#33a03e" />
<rect x="344.22" y="113.33" width="2.40" height="2.40" fill="#33a03e" />
<line x1="354.06" y1="112.02" x2="354.06" y2="114.77" stroke="#33a03e" stroke-width="0.8" />
<line x1="352.76" y1="112.02" x2="355.36" y2="112.02" stroke="#33a03e" stroke-width="0.8" />
<line x1="352.76" y1="114.77" x2="355.36" y2="114.77" stroke="#33a03e" stroke-width="0.8" />
<rect x="352.86" y="112.19" width="2.40" height="2.40" fill="#33a03e" />
<line x1="362.70" y1="102.81" x2="362.70" y2="108.31" stroke="#33a03e" stroke-width="0.8" />
<line x1="361.40" y1="102.81" x2="364.00" y2="102.81" stroke="#33a03e" stroke-width="0.8" />
<line x1="361.40" y1="108.31" x2="364.00" y2="108.31" stroke="#33a03e" stroke-width="0.8" />
<rect x="361.50" y="104.36" width="2.40" height="2.40" fill="#33a03e" />
<line x1="371.34" y1="74.83" x2="371.34" y2="81.70" stroke="#33a03e" stroke-width="0.8" />
<line x1="370.04" y1="74.83" x2="372.64" y2="74.83" stroke="#33a03e" stroke-width="0.8" />
<line x1="370.04" y1="81.70" x2="372.64" y2="81.70" stroke="#33a03e" stroke-width="0.8" />
<rect x="370.14" y="77.07" width="2.40" height="2.40" fill="#33a03e" />
<line x1="379.98" y1="53.81" x2="379.98" y2="59.31" stroke="#33a03e" stroke-width="0.8" />
<line x1="378.68" y1="53.81" x2="381.28" y2="53.81" stroke="#33a03e" stroke-width="0.8" />
<line x1="378.68" y1="59.31" x2="381.28" y2="59.31" stroke="#33a03e" stroke-width="0.8" />
<rect x="378.78" y="55.36" width="2.40" height="2.40" fill="#33a03e" />
<line x1="388.62" y1="49.82" x2="388.62" y2="53.94" stroke="#33a03e" stroke-width="0.8" />
<line x1="387.32" y1="49.82" x2="389.92" y2="49.82" stroke="#33a03e" stroke-width="0.8" />
<line x1="387.32" y1="53.94" x2="389.92" y2="53.94" stroke="#33a03e" stroke-width="0.8" />
<rect x="387.42" y="50.68" width="2.40" height="2.40" fill="#33a03e" />
<line x1="397.26" y1="49.87" x2="397.26" y2="52.62" stroke="#33a03e" stroke-width="0.8" />
<line x1="395.96" y1="49.87" x2="398.56" y2="49.87" stroke="#33a03e" stroke-width="0.8" />
<line x1="395.96" y1="52.62" x2="398.56" y2="52.62" stroke="#33a03e" stroke-width="0.8" />
<rect x="396.06" y="50.04" width="2.40" height="2.40" fill="#33a03e" />
<polyline points="317.47,114.70 318.08,114.70 318.69,114.70 319.30,114.70 319.91,114.70 320.51,114.70 321.12,114.70 321.73,114.70 322.34,114.70 322.95,114.70 323.56,114.70 324.16,114.70 324.77,114.70 325.38,114.70 325.99,114.70 326.60,114.70 327.20,114.70 327.81,114.70 328.42,114.70 329.03,114.70 329.64,114.70 330.25,114.70 330.85,114.70 331.46,114.70 332.07,114.70 332.68,114.69 333.29,114.69 333.89,114.69 334.50,114.69 335.11,114.69 335.72,114.69 336.33,114.69 336.93,114.68 337.54,114.68 338.15,114.68 338.76,114.68 339.37,114.67 339.98,114.67 340.58,114.66 341.19,114.66 341.80,114.65 342.41,114.64 343.02,114.63 343.62,114.62 344.23,114.61 344.84,114.59 345.45,114.58 346.06,114.56 346.66,114.53 347.27,114.51 347.88,114.48 348.49,114.44 349.10,114.40 349.71,114.36 350.31,114.30 350.92,114.24 351.53,114.17 352.14,114.09 352.75,113.99 353.35,113.88 353.96,113.75 354.57,113.61 355.18,113.44 355.79,113.25 356.39,113.02 357.00,112.77 357.61,112.47 358.22,112.14 358.83,111.75 359.44,111.31 360.04,110.81 360.65,110.24 361.26,109.59 361.87,108.86 362.48,108.04 363.08,107.12 363.69,106.09 364.30,104.94 364.91,103.67 365.52,102.27 366.12,100.75 366.73,99.10 367.34,97.32 367.95,95.42 368.56,93.41 369.17,91.30 369.77,89.12 370.38,86.87 370.99,84.58 371.60,82.28 372.21,80.00 372.81,77.74 373.42,75.54 374.03,73.42 374.64,71.40 375.25,69.48 375.86,67.69 376.46,66.02 377.07,64.47 377.68,63.06 378.29,61.77 378.90,60.61 379.50,59.56 380.11,58.62 380.72,57.79 381.33,57.05 381.94,56.39 382.54,55.81 383.15,55.30 383.76,54.85 384.37,54.46 384.98,54.11 385.59,53.81 386.19,53.55 386.80,53.32 387.41,53.13 388.02,52.95 388.63,52.80 389.23,52.67 389.84,52.56 390.45,52.46 391.06,52.38 391.67,52.31 392.27,52.24 392.88,52.19 393.49,52.14 394.10,52.10 394.71,52.07 395.32,52.03 395.92,52.01 396.53,51.99 397.14,51.97 397.75,51.95 398.36,51.93" fill="none" stroke="#33a03e" stroke-width="0.9" />
<circle cx="319.50" cy="114.70" r="1.2" fill="#33a03e"/>
<circle cx="328.14" cy="114.70" r="1.2" fill="#33a03e"/>
<circle cx="336.78" cy="114.68" r="1.2" fill="#33a03e"/>
<circle cx="345.42" cy="114.58" r="1.2" fill="#33a03e"/>
<line x1="354.06" y1="112.36" x2="354.06" y2="115.11" stroke="#33a03e" stroke-width="0.8" />
<line x1="352.76" y1="112.36" x2="355.36" y2="112.36" stroke="#33a03e" stroke-width="0.8" />
<line x1="352.76" y1="115.11" x2="355.36" y2="115.11" stroke="#33a03e" stroke-width="0.8" />
<circle cx="354.06" cy="113.73" r="1.2" fill="#33a03e"/>
<line x1="362.70" y1="104.97" x2="362.70" y2="110.46" stroke="#33a03e" stroke-width="0.8" />
<line x1="361.40" y1="104.97" x2="364.00" y2="104.97" stroke="#33a03e" stroke-width="0.8" />
<line x1="361.40" y1="110.46" x2="364.00" y2="110.46" stroke="#33a03e" stroke-width="0.8" />
<circle cx="362.70" cy="107.72" r="1.2" fill="#33a03e"/>
<line x1="371.34" y1="79.83" x2="371.34" y2="86.70" stroke="#33a03e" stroke-width="0.8" />
<line x1="370.04" y1="79.83" x2="372.64" y2="79.83" stroke="#33a03e" stroke-width="0.8" />
<line x1="370.04" y1="86.70" x2="372.64" y2="86.70" stroke="#33a03e" stroke-width="0.8" />
<circle cx="371.34" cy="83.27" r="1.2" fill="#33a03e"/>
<line x1="379.98" y1="56.08" x2="379.98" y2="61.57" stroke="#33a03e" stroke-width="0.8" />
<line x1="378.68" y1="56.08" x2="381.28" y2="56.08" stroke="#33a03e" stroke-width="0.8" />
<line x1="378.68" y1="61.57" x2="381.28" y2="61.57" stroke="#33a03e" stroke-width="0.8" />
<circle cx="379.98" cy="58.82" r="1.2" fill="#33a03e"/>
<line x1="388.62" y1="50.75" x2="388.62" y2="54.87" stroke="#33a03e" stroke-width="0.8" />
<line x1="387.32" y1="50.75" x2="389.92" y2="50.75" stroke="#33a03e" stroke-width="0.8" />
<line x1="387.32" y1="54.87" x2="389.92" y2="54.87" stroke="#33a03e" stroke-width="0.8" />
<circle cx="388.62" cy="52.81" r="1.2" fill="#33a03e"/>
<line x1="397.26" y1="50.59" x2="397.26" y2="53.34" stroke="#33a03e" stroke-width="0.8" />
<line x1="395.96" y1="50.59" x2="398.56" y2="50.59" stroke="#33a03e" stroke-width="0.8" />
<line x1="395.96" y1="53.34" x2="398.56" y2="53.34" stroke="#33a03e" stroke-width="0.8" />
<circle cx="397.26" cy="51.96" r="1.2" fill="#33a03e"/>
<polyline points="317.47,114.70 318.08,114.70 318.69,114.70 319.30,114.70 319.91,114.70 320.51,114.70 321.12,114.70 321.73,114.70 322.34,114.70 322.95,114.70 323.56,114.70 324.16,114.70 324.77,114.70 325.38,114.70 325.99,114.70 326.60,114.70 327.20,114.70 327.81,114.70 328.42,114.70 329.03,114.70 329.64,114.70 330.25,114.70 330.85,114.70 331.46,114.69 332.07,114.69 332.68,114.69 333.29,114.69 333.89,114.69 334.50,114.69 335.11,114.69 335.72,114.69 336.33,114.68 336.93,114.68 337.54,114.68 338.15,114.67 338.76,114.67 339.37,114.67 339.98,114.66 340.58,114.66 341.19,114.65 341.80,114.64 342.41,114.63 343.02,114.62 343.62,114.61 344.23,114.60 344.84,114.58 345.45,114.57 346.06,114.55 346.66,114.53 347.27,114.50 347.88,114.47 348.49,114.44 349.10,114.40 349.71,114.36 350.31,114.31 350.92,114.25 351.53,114.18 352.14,114.11 352.75,114.02 353.35,113.93 353.96,113.82 354.57,113.69 355.18,113.54 355.79,113.38 356.39,113.19 357.00,112.97 357.61,112.73 358.22,112.45 358.83,112.14 359.44,111.78 360.04,111.37 360.65,110.92 361.26,110.40 361.87,109.82 362.48,109.17 363.08,108.44 363.69,107.63 364.30,106.73 364.91,105.73 365.52,104.63 366.12,103.43 366.73,102.11 367.34,100.69 367.95,99.15 368.56,97.51 369.17,95.76 369.77,93.92 370.38,92.00 370.99,90.00 371.60,87.95 372.21,85.86 372.81,83.75 373.42,81.65 374.03,79.56 374.64,77.51 375.25,75.51 375.86,73.59 376.46,71.75 377.07,70.01 377.68,68.37 378.29,66.84 378.90,65.42 379.50,64.11 380.11,62.90 380.72,61.81 381.33,60.81 381.94,59.91 382.54,59.11 383.15,58.38 383.76,57.73 384.37,57.15 384.98,56.64 385.59,56.18 386.19,55.78 386.80,55.43 387.41,55.11 388.02,54.83 388.63,54.59 389.23,54.38 389.84,54.19 390.45,54.02 391.06,53.88 391.67,53.75 392.27,53.64 392.88,53.54 393.49,53.46 394.10,53.38 394.71,53.32 395.32,53.26 395.92,53.21 396.53,53.17 397.14,53.13 397.75,53.10 398.36,53.07" fill="none" stroke="#33a03e" stroke-width="0.9" />
<path d="M319.50,113.20 l1.5,2.6 h-3z" fill="#33a03e"/>
<path d="M328.14,113.20 l1.5,2.6 h-3z" fill="#33a03e"/>
<path d="M336.78,113.18 l1.5,2.6 h-3z" fill="#33a03e"/>
<path d="M345.42,113.07 l1.5,2.6 h-3z" fill="#33a03e"/>
<line x1="354.06" y1="112.42" x2="354.06" y2="115.17" stroke="#33a03e" stroke-width="0.8" />
<line x1="352.76" y1="112.42" x2="355.36" y2="112.42" stroke="#33a03e" stroke-width="0.8" />
<line x1="352.76" y1="115.17" x2="355.36" y2="115.17" stroke="#33a03e" stroke-width="0.8" />
<path d="M354.06,112.30 l1.5,2.6 h-3z" fill="#33a03e"/>
<line x1="362.70" y1="106.17" x2="362.70" y2="111.66" stroke="#33a03e" stroke-width="0.8" />
<line x1="361.40" y1="106.17" x2="364.00" y2="106.17" stroke="#33a03e" stroke-width="0.8" />
<line x1="361.40" y1="111.66" x2="364.00" y2="111.66" stroke="#33a03e" stroke-width="0.8" />
<path d="M362.70,107.41 l1.5,2.6 h-3z" fill="#33a03e"/>
<line x1="371.34" y1="84.72" x2="371.34" y2="92.96" stroke="#33a03e" stroke-width="0.8" />
<line x1="370.04" y1="84.72" x2="372.64" y2="84.72" stroke="#33a03e" stroke-width="0.8" />
<line x1="370.04" y1="92.96" x2="372.64" y2="92.96" stroke="#33a03e" stroke-width="0.8" />
<path d="M371.34,87.34 l1.5,2.6 h-3z" fill="#33a03e"/>
<line x1="379.98" y1="59.73" x2="379.98" y2="66.60" stroke="#33a03e" stroke-width="0.8" />
<line x1="378.68" y1="59.73" x2="381.28" y2="59.73" stroke="#33a03e" stroke-width="0.8" />
<line x1="378.68" y1="66.60" x2="381.28" y2="66.60" stroke="#33a03e" stroke-width="0.8" />
<path d="M379.98,61.66 l1.5,2.6 h-3z" fill="#33a03e"/>
<line x1="388.62" y1="52.53" x2="388.62" y2="56.65" stroke="#33a03e" stroke-width="0.8" />
<line x1="387.32" y1="52.53" x2="389.92" y2="52.53" stroke="#33a03e" stroke-width="0.8" />
<line x1="387.32" y1="56.65" x2="389.92" y2="56.65" stroke="#33a03e" stroke-width="0.8" />
<path d="M388.62,53.09 l1.5,2.6 h-3z" fill="#33a03e"/>
<line x1="397.26" y1="51.75" x2="397.26" y2="54.50" stroke="#33a03e" stroke-width="0.8" />
<line x1="395.96" y1="51.75" x2="398.56" y2="51.75" stroke="#33a03e" stroke-width="0.8" />
<line x1="395.96" y1="54.50" x2="398.56" y2="54.50" stroke="#33a03e" stroke-width="0.8" />
<path d="M397.26,51.62 l1.5,2.6 h-3z" fill="#33a03e"/>
<polyline points="317.47,114.70 318.08,114.70 318.69,114.70 319.30,114.70 319.91,114.70 320.51,114.69 321.12,114.69 321.73,114.69 322.34,114.69 322.95,114.69 323.56,114.69 324.16,114.69 324.77,114.69 325.38,114.68 325.99,114.68 326.60,114.68 327.20,114.68 327.81,114.67 328.42,114.67 329.03,114.67 329.64,114.66 330.25,114.66 330.85,114.65 331.46,114.65 332.07,114.64 332.68,114.63 333.29,114.62 333.89,114.61 334.50,114.60 335.11,114.58 335.72,114.57 336.33,114.55 336.93,114.53 337.54,114.51 338.15,114.48 338.76,114.45 339.37,114.42 339.98,114.38 340.58,114.34 341.19,114.29 341.80,114.23 342.41,114.17 343.02,114.10 343.62,114.02 344.23,113.93 344.84,113.83 345.45,113.71 346.06,113.58 346.66,113.43 347.27,113.26 347.88,113.07 348.49,112.86 349.10,112.62 349.71,112.34 350.31,112.04 350.92,111.70 351.53,111.31 352.14,110.88 352.75,110.40 353.35,109.86 353.96,109.26 354.57,108.59 355.18,107.85 355.79,107.03 356.39,106.13 357.00,105.14 357.61,104.05 358.22,102.87 358.83,101.59 359.44,100.21 360.04,98.73 360.65,97.14 361.26,95.47 361.87,93.70 362.48,91.85 363.08,89.92 363.69,87.94 364.30,85.91 364.91,83.85 365.52,81.77 366.12,79.69 366.73,77.63 367.34,75.60 367.95,73.63 368.56,71.71 369.17,69.87 369.77,68.11 370.38,66.45 370.99,64.87 371.60,63.40 372.21,62.04 372.81,60.77 373.42,59.60 374.03,58.53 374.64,57.55 375.25,56.66 375.86,55.85 376.46,55.12 377.07,54.46 377.68,53.87 378.29,53.33 378.90,52.86 379.50,52.43 380.11,52.05 380.72,51.71 381.33,51.41 381.94,51.14 382.54,50.91 383.15,50.70 383.76,50.51 384.37,50.34 384.98,50.20 385.59,50.07 386.19,49.95 386.80,49.85 387.41,49.76 388.02,49.68 388.63,49.61 389.23,49.55 389.84,49.50 390.45,49.45 391.06,49.41 391.67,49.37 392.27,49.34 392.88,49.31 393.49,49.28 394.10,49.26 394.71,49.24 395.32,49.22 395.92,49.21 396.53,49.19 397.14,49.18 397.75,49.17 398.36,49.16" fill="none" stroke="#dc4535" stroke-width="0.9" />
<rect x="318.30" y="113.50" width="2.40" height="2.40" fill="#dc4535" />
<rect x="326.94" y="113.47" width="2.40" height="2.40" fill="#dc4535" />
<rect x="335.58" y="113.34" width="2.40" height="2.40" fill="#dc4535" />
<rect x="344.22" y="112.52" width="2.40" height="2.40" fill="#dc4535" />
<line x1="354.06" y1="107.78" x2="354.06" y2="110.53" stroke="#dc4535" stroke-width="0.8" />
<line x1="352.76" y1="107.78" x2="355.36" y2="107.78" stroke="#dc4535" stroke-width="0.8" />
<line x1="352.76" y1="110.53" x2="355.36" y2="110.53" stroke="#dc4535" stroke-width="0.8" />
<rect x="352.86" y="107.95" width="2.40" height="2.40" fill="#dc4535" />
<line x1="362.70" y1="88.41" x2="362.70" y2="93.90" stroke="#dc4535" stroke-width="0.8" />
<line x1="361.40" y1="88.41" x2="364.00" y2="88.41" stroke="#dc4535" stroke-width="0.8" />
<line x1="361.40" y1="93.90" x2="364.00" y2="93.90" stroke="#dc4535" stroke-width="0.8" />
<rect x="361.50" y="89.95" width="2.40" height="2.40" fill="#dc4535" />
<line x1="371.34" y1="61.27" x2="371.34" y2="66.77" stroke="#dc4535" stroke-width="0.8" />
<line x1="370.04" y1="61.27" x2="372.64" y2="61.27" stroke="#dc4535" stroke-width="0.8" />
<line x1="370.04" y1="66.77" x2="372.64" y2="66.77" stroke="#dc4535" stroke-width="0.8" />
<rect x="370.14" y="62.82" width="2.40" height="2.40" fill="#dc4535" />
<line x1="379.98" y1="50.07" x2="379.98" y2="54.19" stroke="#dc4535" stroke-width="0.8" />
<line x1="378.68" y1="50.07" x2="381.28" y2="50.07" stroke="#dc4535" stroke-width="0.8" />
<line x1="378.68" y1="54.19" x2="381.28" y2="54.19" stroke="#dc4535" stroke-width="0.8" />
<rect x="378.78" y="50.93" width="2.40" height="2.40" fill="#dc4535" />
<line x1="388.62" y1="48.24" x2="388.62" y2="50.99" stroke="#dc4535" stroke-width="0.8" />
<line x1="387.32" y1="48.24" x2="389.92" y2="48.24" stroke="#dc4535" stroke-width="0.8" />
<line x1="387.32" y1="50.99" x2="389.92" y2="50.99" stroke="#dc4535" stroke-width="0.8" />
<rect x="387.42" y="48.41" width="2.40" height="2.40" fill="#dc4535" />
<line x1="397.26" y1="47.80" x2="397.26" y2="50.55" stroke="#dc4535" stroke-width="0.8" />
<line x1="395.96" y1="47.80" x2="398.56" y2="47.80" stroke="#dc4535" stroke-width="0.8" />
<line x1="395.96" y1="50.55" x2="398.56" y2="50.55" stroke="#dc4535" stroke-width="0.8" />
<rect x="396.06" y="47.98" width="2.40" height="2.40" fill="#dc4535" />
<polyline points="317.47,108.80 318.08,108.50 318.69,108.16 319.30,107.80 319.91,107.41 320.51,106.98 321.12,106.51 321.73,106.00 322.34,105.46 322.95,104.87 323.56,104.23 324.16,103.55 324.77,102.81 325.38,102.02 325.99,101.18 326.60,100.28 327.20,99.32 327.81,98.31 328.42,97.24 329.03,96.11 329.64,94.92 330.25,93.69 330.85,92.40 331.46,91.06 332.07,89.67 332.68,88.25 333.29,86.79 333.89,85.31 334.50,83.80 335.11,82.28 335.72,80.75 336.33,79.21 336.93,77.69 337.54,76.17 338.15,74.68 338.76,73.22 339.37,71.78 339.98,70.39 340.58,69.04 341.19,67.73 341.80,66.48 342.41,65.28 343.02,64.13 343.62,63.04 344.23,62.01 344.84,61.04 345.45,60.12 346.06,59.27 346.66,58.46 347.27,57.71 347.88,57.01 348.49,56.36 349.10,55.75 349.71,55.19 350.31,54.68 350.92,54.20 351.53,53.76 352.14,53.36 352.75,52.98 353.35,52.64 353.96,52.33 354.57,52.04 355.18,51.78 355.79,51.54 356.39,51.32 357.00,51.12 357.61,50.94 358.22,50.77 358.83,50.62 359.44,50.48 360.04,50.35 360.65,50.24 361.26,50.13 361.87,50.04 362.48,49.95 363.08,49.87 363.69,49.80 364.30,49.73 364.91,49.68 365.52,49.62 366.12,49.57 366.73,49.53 367.34,49.49 367.95,49.45 368.56,49.42 369.17,49.39 369.77,49.36 370.38,49.34 370.99,49.31 371.60,49.29 372.21,49.27 372.81,49.26 373.42,49.24 374.03,49.23 374.64,49.21 375.25,49.20 375.86,49.19 376.46,49.18 377.07,49.18 377.68,49.17 378.29,49.16 378.90,49.15 379.50,49.15 380.11,49.14 380.72,49.14 381.33,49.13 381.94,49.13 382.54,49.13 383.15,49.12 383.76,49.12 384.37,49.12 384.98,49.12 385.59,49.11 386.19,49.11 386.80,49.11 387.41,49.11 388.02,49.11 388.63,49.10 389.23,49.10 389.84,49.10 390.45,49.10 391.06,49.10 391.67,49.10 392.27,49.10 392.88,49.10 393.49,49.10 394.10,49.10 394.71,49.10 395.32,49.10 395.92,49.10 396.53,49.10 397.14,49.09 397.75,49.09 398.36,49.09" fill="none" stroke="#2f3088" stroke-width="0.9" />
<line x1="319.50" y1="100.80" x2="319.50" y2="114.54" stroke="#2f3088" stroke-width="0.8" />
<line x1="318.20" y1="100.80" x2="320.80" y2="100.80" stroke="#2f3088" stroke-width="0.8" />
<line x1="318.20" y1="114.54" x2="320.80" y2="114.54" stroke="#2f3088" stroke-width="0.8" />
<rect x="318.30" y="106.47" width="2.40" height="2.40" fill="#2f3088" />
<line x1="328.14" y1="90.87" x2="328.14" y2="104.61" stroke="#2f3088" stroke-width="0.8" />
<line x1="326.84" y1="90.87" x2="329.44" y2="90.87" stroke="#2f3088" stroke-width="0.8" />
<line x1="326.84" y1="104.61" x2="329.44" y2="104.61" stroke="#2f3088" stroke-width="0.8" />
<rect x="326.94" y="96.54" width="2.40" height="2.40" fill="#2f3088" />
<line x1="336.78" y1="72.58" x2="336.78" y2="83.57" stroke="#2f3088" stroke-width="0.8" />
<line x1="335.48" y1="72.58" x2="338.08" y2="72.58" stroke="#2f3088" stroke-width="0.8" />
<line x1="335.48" y1="83.57" x2="338.08" y2="83.57" stroke="#2f3088" stroke-width="0.8" />
<rect x="335.58" y="76.88" width="2.40" height="2.40" fill="#2f3088" />
<line x1="345.42" y1="56.73" x2="345.42" y2="63.60" stroke="#2f3088" stroke-width="0.8" />
<line x1="344.12" y1="56.73" x2="346.72" y2="56.73" stroke="#2f3088" stroke-width="0.8" />
<line x1="344.12" y1="63.60" x2="346.72" y2="63.60" stroke="#2f3088" stroke-width="0.8" />
<rect x="344.22" y="58.97" width="2.40" height="2.40" fill="#2f3088" />
<line x1="354.06" y1="50.22" x2="354.06" y2="54.34" stroke="#2f3088" stroke-width="0.8" />
<line x1="352.76" y1="50.22" x2="355.36" y2="50.22" stroke="#2f3088" stroke-width="0.8" />
<line x1="352.76" y1="54.34" x2="355.36" y2="54.34" stroke="#2f3088" stroke-width="0.8" />
<rect x="352.86" y="51.08" width="2.40" height="2.40" fill="#2f3088" />
<line x1="362.70" y1="48.55" x2="362.70" y2="51.29" stroke="#2f3088" stroke-width="0.8" />
<line x1="361.40" y1="48.55" x2="364.00" y2="48.55" stroke="#2f3088" stroke-width="0.8" />
<line x1="361.40" y1="51.29" x2="364.00" y2="51.29" stroke="#2f3088" stroke-width="0.8" />
<rect x="361.50" y="48.72" width="2.40" height="2.40" fill="#2f3088" />
<line x1="371.34" y1="47.93" x2="371.34" y2="50.67" stroke="#2f3088" stroke-width="0.8" />
<line x1="370.04" y1="47.93" x2="372.64" y2="47.93" stroke="#2f3088" stroke-width="0.8" />
<line x1="370.04" y1="50.67" x2="372.64" y2="50.67" stroke="#2f3088" stroke-width="0.8" />
<rect x="370.14" y="48.10" width="2.40" height="2.40" fill="#2f3088" />
<line x1="379.98" y1="47.77" x2="379.98" y2="50.52" stroke="#2f3088" stroke-width="0.8" />
<line x1="378.68" y1="47.77" x2="381.28" y2="47.77" stroke="#2f3088" stroke-width="0.8" />
<line x1="378.68" y1="50.52" x2="381.28" y2="50.52" stroke="#2f3088" stroke-width="0.8" />
<rect x="378.78" y="47.94" width="2.40" height="2.40" fill="#2f3088" />
<line x1="388.62" y1="47.73" x2="388.62" y2="50.48" stroke="#2f3088" stroke-width="0.8" />
<line x1="387.32" y1="47.73" x2="389.92" y2="47.73" stroke="#2f3088" stroke-width="0.8" />
<line x1="387.32" y1="50.48" x2="389.92" y2="50.48" stroke="#2f3088" stroke-width="0.8" />
<rect x="387.42" y="47.90" width="2.40" height="2.40" fill="#2f3088" />
<line x1="397.26" y1="47.72" x2="397.26" y2="50.47" stroke="#2f3088" stroke-width="0.8" />
<line x1="395.96" y1="47.72" x2="398.56" y2="47.72" stroke="#2f3088" stroke-width="0.8" />
<line x1="395.96" y1="50.47" x2="398.56" y2="50.47" stroke="#2f3088" stroke-width="0.8" />
<rect x="396.06" y="47.89" width="2.40" height="2.40" fill="#2f3088" />
<line x1="315.90" y1="149.80" x2="323.90" y2="149.80" stroke="#2f3088" stroke-width="1" />
<rect x="318.60" y="148.50" width="2.60" height="2.60" fill="#2f3088" />
<text x="326.6" y="152.20" font-size="7.2" fill="#2f3088" stroke="#2f3088" stroke-width="0.1" textLength="29.0" lengthAdjust="spacingAndGlyphs"><tspan font-style="italic">TP53</tspan><tspan font-size="4.6" dy="-2.8">+/+</tspan><tspan dy="2.8"> #1</tspan></text>
<line x1="365.40" y1="149.80" x2="373.40" y2="149.80" stroke="#dc4535" stroke-width="1" />
<rect x="368.10" y="148.50" width="2.60" height="2.60" fill="#dc4535" />
<text x="375.6" y="152.20" font-size="7.2" fill="#dc4535" stroke="#dc4535" stroke-width="0.1" textLength="29.0" lengthAdjust="spacingAndGlyphs"><tspan font-style="italic">TP53</tspan><tspan font-size="4.6" dy="-2.8">&#8211;/&#8211;</tspan><tspan dy="2.8"> #2</tspan></text>
<circle cx="319.90" cy="160.10" r="1.1" fill="#222"/>
<text x="326.6" y="162.50" font-size="7.2" fill="#3a3a3a" stroke="#3a3a3a" stroke-width="0.1" textLength="29.4" lengthAdjust="spacingAndGlyphs"><tspan font-style="italic">BAK1</tspan><tspan font-size="4.6" dy="-2.8">&#8211;/&#8211;</tspan><tspan dy="2.8"> #1</tspan></text>
<circle cx="369.40" cy="160.10" r="1.1" fill="#33a03e"/>
<text x="375.6" y="162.50" font-size="7.2" fill="#3a8f3e" stroke="#3a8f3e" stroke-width="0.1" textLength="26.6" lengthAdjust="spacingAndGlyphs"><tspan font-style="italic">BAX</tspan><tspan font-size="4.6" dy="-2.8">&#8211;/&#8211;</tspan><tspan dy="2.8"> #1</tspan></text>
<rect x="318.90" y="168.90" width="2.00" height="2.00" fill="#222" />
<text x="326.6" y="172.30" font-size="7.2" fill="#3a3a3a" stroke="#3a3a3a" stroke-width="0.1" textLength="29.4" lengthAdjust="spacingAndGlyphs"><tspan font-style="italic">BAK1</tspan><tspan font-size="4.6" dy="-2.8">&#8211;/&#8211;</tspan><tspan dy="2.8"> #2</tspan></text>
<rect x="368.40" y="168.90" width="2.00" height="2.00" fill="#33a03e" />
<text x="375.6" y="172.30" font-size="7.2" fill="#3a8f3e" stroke="#3a8f3e" stroke-width="0.1" textLength="26.6" lengthAdjust="spacingAndGlyphs"><tspan font-style="italic">BAX</tspan><tspan font-size="4.6" dy="-2.8">&#8211;/&#8211;</tspan><tspan dy="2.8"> #2</tspan></text>
<path d="M319.90,178.60 l1.3,2.2 h-2.6z" fill="#444"/>
<text x="326.6" y="182.30" font-size="7.2" fill="#4a4a4a" stroke="#4a4a4a" stroke-width="0.1" textLength="29.4" lengthAdjust="spacingAndGlyphs"><tspan font-style="italic">BAK1</tspan><tspan font-size="4.6" dy="-2.8">&#8211;/&#8211;</tspan><tspan dy="2.8"> #3</tspan></text>
<path d="M369.40,178.60 l1.3,2.2 h-2.6z" fill="#33a03e"/>
<text x="375.6" y="182.30" font-size="7.2" fill="#3a8f3e" stroke="#3a8f3e" stroke-width="0.1" textLength="26.6" lengthAdjust="spacingAndGlyphs"><tspan font-style="italic">BAX</tspan><tspan font-size="4.6" dy="-2.8">&#8211;/&#8211;</tspan><tspan dy="2.8"> #3</tspan></text>
<line x1="446.60" y1="41.50" x2="446.60" y2="115.30" stroke="#231f20" stroke-width="1" />
<line x1="446.10" y1="114.80" x2="498.00" y2="114.80" stroke="#231f20" stroke-width="1" />
<line x1="444.00" y1="114.80" x2="446.60" y2="114.80" stroke="#231f20" stroke-width="0.9" />
<text x="439.80" y="116.90" font-size="7.0" fill="#2a2a2a" text-anchor="end" textLength="3.25" lengthAdjust="spacingAndGlyphs"  stroke="#2a2a2a" stroke-width="0.12">2</text>
<line x1="444.00" y1="105.84" x2="446.60" y2="105.84" stroke="#231f20" stroke-width="0.9" />
<text x="439.80" y="107.94" font-size="7.0" fill="#2a2a2a" text-anchor="end" textLength="3.25" lengthAdjust="spacingAndGlyphs"  stroke="#2a2a2a" stroke-width="0.12">4</text>
<line x1="444.00" y1="96.88" x2="446.60" y2="96.88" stroke="#231f20" stroke-width="0.9" />
<text x="439.80" y="98.98" font-size="7.0" fill="#2a2a2a" text-anchor="end" textLength="3.25" lengthAdjust="spacingAndGlyphs"  stroke="#2a2a2a" stroke-width="0.12">8</text>
<line x1="444.00" y1="87.92" x2="446.60" y2="87.92" stroke="#231f20" stroke-width="0.9" />
<text x="439.80" y="90.02" font-size="7.0" fill="#2a2a2a" text-anchor="end" textLength="6.50" lengthAdjust="spacingAndGlyphs"  stroke="#2a2a2a" stroke-width="0.12">16</text>
<line x1="444.00" y1="78.96" x2="446.60" y2="78.96" stroke="#231f20" stroke-width="0.9" />
<text x="439.80" y="81.06" font-size="7.0" fill="#2a2a2a" text-anchor="end" textLength="6.50" lengthAdjust="spacingAndGlyphs"  stroke="#2a2a2a" stroke-width="0.12">32</text>
<line x1="444.00" y1="70.00" x2="446.60" y2="70.00" stroke="#231f20" stroke-width="0.9" />
<text x="439.80" y="72.10" font-size="7.0" fill="#2a2a2a" text-anchor="end" textLength="6.50" lengthAdjust="spacingAndGlyphs"  stroke="#2a2a2a" stroke-width="0.12">64</text>
<line x1="444.00" y1="61.04" x2="446.60" y2="61.04" stroke="#231f20" stroke-width="0.9" />
<text x="439.80" y="63.14" font-size="7.0" fill="#2a2a2a" text-anchor="end" textLength="9.75" lengthAdjust="spacingAndGlyphs"  stroke="#2a2a2a" stroke-width="0.12">128</text>
<line x1="444.00" y1="52.08" x2="446.60" y2="52.08" stroke="#231f20" stroke-width="0.9" />
<text x="439.80" y="54.18" font-size="7.0" fill="#2a2a2a" text-anchor="end" textLength="9.75" lengthAdjust="spacingAndGlyphs"  stroke="#2a2a2a" stroke-width="0.12">256</text>
<line x1="444.00" y1="43.12" x2="446.60" y2="43.12" stroke="#231f20" stroke-width="0.9" />
<text x="439.80" y="45.22" font-size="7.0" fill="#2a2a2a" text-anchor="end" textLength="9.75" lengthAdjust="spacingAndGlyphs"  stroke="#2a2a2a" stroke-width="0.12">512</text>
<text x="472.80" y="125.00" font-size="7.6" fill="#333" text-anchor="middle" textLength="30.20" lengthAdjust="spacingAndGlyphs"  stroke="#333" stroke-width="0.12">NCI-H929</text>
<text x="425.2" y="76.2" font-size="8.0" fill="#2a2a2a" text-anchor="middle" transform="rotate(-90 425.2 76.2)" textLength="60" lengthAdjust="spacingAndGlyphs" stroke="#2a2a2a" stroke-width="0.12">LD<tspan font-size="5.4" dy="1.8">50</tspan><tspan dy="-1.8"> S63845 (nM)</tspan></text>
<line x1="450.20" y1="97.00" x2="450.20" y2="106.40" stroke="#2f3088" stroke-width="0.8" />
<line x1="449.00" y1="97.00" x2="451.40" y2="97.00" stroke="#2f3088" stroke-width="0.8" />
<line x1="449.00" y1="106.40" x2="451.40" y2="106.40" stroke="#2f3088" stroke-width="0.8" />
<rect x="449.00" y="99.40" width="2.40" height="2.40" fill="#2f3088" />
<line x1="453.90" y1="97.00" x2="453.90" y2="106.40" stroke="#2f3088" stroke-width="0.8" />
<line x1="452.70" y1="97.00" x2="455.10" y2="97.00" stroke="#2f3088" stroke-width="0.8" />
<line x1="452.70" y1="106.40" x2="455.10" y2="106.40" stroke="#2f3088" stroke-width="0.8" />
<rect x="452.70" y="99.40" width="2.40" height="2.40" fill="#2f3088" />
<line x1="458.00" y1="97.00" x2="458.00" y2="106.40" stroke="#2f3088" stroke-width="0.8" />
<line x1="456.80" y1="97.00" x2="459.20" y2="97.00" stroke="#2f3088" stroke-width="0.8" />
<line x1="456.80" y1="106.40" x2="459.20" y2="106.40" stroke="#2f3088" stroke-width="0.8" />
<rect x="456.80" y="99.40" width="2.40" height="2.40" fill="#2f3088" />
<line x1="462.10" y1="97.00" x2="462.10" y2="106.40" stroke="#333" stroke-width="0.8" />
<line x1="460.90" y1="97.00" x2="463.30" y2="97.00" stroke="#333" stroke-width="0.8" />
<line x1="460.90" y1="106.40" x2="463.30" y2="106.40" stroke="#333" stroke-width="0.8" />
<circle cx="462.10" cy="100.60" r="1.2" fill="#333"/>
<rect x="464.70" y="104.20" width="2.40" height="2.40" fill="#222" />
<line x1="470.30" y1="90.70" x2="470.30" y2="98.10" stroke="#333" stroke-width="0.8" />
<line x1="469.10" y1="90.70" x2="471.50" y2="90.70" stroke="#333" stroke-width="0.8" />
<line x1="469.10" y1="98.10" x2="471.50" y2="98.10" stroke="#333" stroke-width="0.8" />
<path d="M470.30,93.40 l1.4,2.4 h-2.8z" fill="#333"/>
<line x1="474.80" y1="84.20" x2="474.80" y2="90.70" stroke="#dc4535" stroke-width="0.8" />
<line x1="473.60" y1="84.20" x2="476.00" y2="84.20" stroke="#dc4535" stroke-width="0.8" />
<line x1="473.60" y1="90.70" x2="476.00" y2="90.70" stroke="#dc4535" stroke-width="0.8" />
<rect x="473.60" y="85.90" width="2.40" height="2.40" fill="#dc4535" />
<line x1="478.90" y1="74.30" x2="478.90" y2="83.40" stroke="#dc4535" stroke-width="0.8" />
<line x1="477.70" y1="74.30" x2="480.10" y2="74.30" stroke="#dc4535" stroke-width="0.8" />
<line x1="477.70" y1="83.40" x2="480.10" y2="83.40" stroke="#dc4535" stroke-width="0.8" />
<rect x="477.70" y="77.20" width="2.40" height="2.40" fill="#dc4535" />
<line x1="483.00" y1="62.90" x2="483.00" y2="78.40" stroke="#dc4535" stroke-width="0.8" />
<line x1="481.80" y1="62.90" x2="484.20" y2="62.90" stroke="#dc4535" stroke-width="0.8" />
<line x1="481.80" y1="78.40" x2="484.20" y2="78.40" stroke="#dc4535" stroke-width="0.8" />
<path d="M483.00,67.20 l1.4,2.4 h-2.8z" fill="#dc4535"/>
<rect x="486.00" y="69.50" width="2.40" height="2.40" fill="#33a03e" />
<circle cx="491.30" cy="67.50" r="1.2" fill="#33a03e"/>
<path d="M495.70,71.00 l1.4,2.4 h-2.8z" fill="#33a03e"/>
<line x1="449.00" y1="88.30" x2="460.80" y2="88.30" stroke="#6a6a6a" stroke-width="0.9" />
<line x1="462.00" y1="88.30" x2="471.50" y2="88.30" stroke="#6a6a6a" stroke-width="0.9" />
<line x1="473.00" y1="62.30" x2="483.40" y2="62.30" stroke="#6a6a6a" stroke-width="0.9" />
<line x1="485.70" y1="62.30" x2="495.80" y2="62.30" stroke="#6a6a6a" stroke-width="0.9" />
<polyline points="453.70,88.30 453.70,85.30 466.20,85.30 466.20,88.30" fill="none" stroke="#6a6a6a" stroke-width="0.9" />
<text x="460.20" y="84.00" font-size="7.0" fill="#2a2a2a" text-anchor="middle" textLength="6.00" lengthAdjust="spacingAndGlyphs"  stroke="#2a2a2a" stroke-width="0.12">ns</text>
<polyline points="453.70,85.30 453.70,46.30 491.60,46.30 491.60,48.80" fill="none" stroke="#6a6a6a" stroke-width="0.9" />
<circle cx="470.15" cy="43.40" r="1.0" fill="#3a3a3a"/>
<circle cx="472.60" cy="43.40" r="1.0" fill="#3a3a3a"/>
<circle cx="475.05" cy="43.40" r="1.0" fill="#3a3a3a"/>
<polyline points="466.20,85.30 466.20,52.30 491.60,52.30 491.60,54.00" fill="none" stroke="#6a6a6a" stroke-width="0.9" />
<circle cx="475.12" cy="49.60" r="1.0" fill="#3a3a3a"/>
<circle cx="477.57" cy="49.60" r="1.0" fill="#3a3a3a"/>
<circle cx="480.03" cy="49.60" r="1.0" fill="#3a3a3a"/>
<circle cx="482.48" cy="49.60" r="1.0" fill="#3a3a3a"/>
<polyline points="466.20,59.20 478.30,59.20 478.30,62.30" fill="none" stroke="#6a6a6a" stroke-width="0.9" />
<polyline points="479.40,62.30 479.40,59.20 492.00,59.20 492.00,62.30" fill="none" stroke="#6a6a6a" stroke-width="0.9" />
<circle cx="468.72" cy="56.40" r="1.0" fill="#3a3a3a"/>
<circle cx="471.17" cy="56.40" r="1.0" fill="#3a3a3a"/>
<circle cx="473.62" cy="56.40" r="1.0" fill="#3a3a3a"/>
<circle cx="476.07" cy="56.40" r="1.0" fill="#3a3a3a"/>
<circle cx="485.70" cy="56.40" r="1.0" fill="#3a3a3a"/>
<rect x="432.20" y="136.20" width="2.00" height="2.00" fill="#2f3088" />
<text x="437.4" y="139.70" font-size="7.2" fill="#2f3088" stroke="#2f3088" stroke-width="0.1" textLength="29.8" lengthAdjust="spacingAndGlyphs"><tspan font-style="italic">TP53</tspan><tspan font-size="4.6" dy="-2.8">+/+</tspan><tspan dy="2.8"> #1</tspan></text>
<rect x="432.20" y="145.60" width="2.00" height="2.00" fill="#2f3088" />
<text x="437.4" y="149.10" font-size="7.2" fill="#2f3088" stroke="#2f3088" stroke-width="0.1" textLength="29.8" lengthAdjust="spacingAndGlyphs"><tspan font-style="italic">TP53</tspan><tspan font-size="4.6" dy="-2.8">+/+</tspan><tspan dy="2.8"> #2</tspan></text>
<rect x="432.20" y="155.80" width="2.00" height="2.00" fill="#2f3088" />
<text x="437.4" y="159.30" font-size="7.2" fill="#2f3088" stroke="#2f3088" stroke-width="0.1" textLength="29.8" lengthAdjust="spacingAndGlyphs"><tspan font-style="italic">TP53</tspan><tspan font-size="4.6" dy="-2.8">+/+</tspan><tspan dy="2.8"> #3</tspan></text>
<rect x="477.60" y="136.20" width="2.00" height="2.00" fill="#dc4535" />
<text x="482.6" y="139.70" font-size="7.2" fill="#dc4535" stroke="#dc4535" stroke-width="0.1" textLength="29.8" lengthAdjust="spacingAndGlyphs"><tspan font-style="italic">TP53</tspan><tspan font-size="4.6" dy="-2.8">&#8211;/&#8211;</tspan><tspan dy="2.8"> #1</tspan></text>
<rect x="477.60" y="145.60" width="2.00" height="2.00" fill="#dc4535" />
<text x="482.6" y="149.10" font-size="7.2" fill="#dc4535" stroke="#dc4535" stroke-width="0.1" textLength="29.8" lengthAdjust="spacingAndGlyphs"><tspan font-style="italic">TP53</tspan><tspan font-size="4.6" dy="-2.8">&#8211;/&#8211;</tspan><tspan dy="2.8"> #2</tspan></text>
<path d="M478.60,155.60 l1.2,2.1 h-2.4z" fill="#dc4535"/>
<text x="482.6" y="159.30" font-size="7.2" fill="#dc4535" stroke="#dc4535" stroke-width="0.1" textLength="29.8" lengthAdjust="spacingAndGlyphs"><tspan font-style="italic">TP53</tspan><tspan font-size="4.6" dy="-2.8">&#8211;/&#8211;</tspan><tspan dy="2.8"> #3</tspan></text>
<circle cx="433.20" cy="171.20" r="1.0" fill="#333"/>
<text x="437.4" y="173.70" font-size="7.2" fill="#3a3a3a" stroke="#3a3a3a" stroke-width="0.1" textLength="30.0" lengthAdjust="spacingAndGlyphs"><tspan font-style="italic">BAK1</tspan><tspan font-size="4.6" dy="-2.8">&#8211;/&#8211;</tspan><tspan dy="2.8"> #1</tspan></text>
<rect x="432.20" y="179.60" width="2.00" height="2.00" fill="#333" />
<text x="437.4" y="183.10" font-size="7.2" fill="#3a3a3a" stroke="#3a3a3a" stroke-width="0.1" textLength="30.0" lengthAdjust="spacingAndGlyphs"><tspan font-style="italic">BAK1</tspan><tspan font-size="4.6" dy="-2.8">&#8211;/&#8211;</tspan><tspan dy="2.8"> #2</tspan></text>
<path d="M433.20,189.60 l1.2,2.1 h-2.4z" fill="#333"/>
<text x="437.4" y="193.30" font-size="7.2" fill="#3a3a3a" stroke="#3a3a3a" stroke-width="0.1" textLength="30.0" lengthAdjust="spacingAndGlyphs"><tspan font-style="italic">BAK1</tspan><tspan font-size="4.6" dy="-2.8">&#8211;/&#8211;</tspan><tspan dy="2.8"> #3</tspan></text>
<rect x="477.60" y="170.20" width="2.00" height="2.00" fill="#33a03e" />
<text x="482.6" y="173.70" font-size="7.2" fill="#3a8f3e" stroke="#3a8f3e" stroke-width="0.1" textLength="27.0" lengthAdjust="spacingAndGlyphs"><tspan font-style="italic">BAX</tspan><tspan font-size="4.6" dy="-2.8">&#8211;/&#8211;</tspan><tspan dy="2.8"> #1</tspan></text>
<circle cx="478.60" cy="180.60" r="1.0" fill="#33a03e"/>
<text x="482.6" y="183.10" font-size="7.2" fill="#3a8f3e" stroke="#3a8f3e" stroke-width="0.1" textLength="27.0" lengthAdjust="spacingAndGlyphs"><tspan font-style="italic">BAX</tspan><tspan font-size="4.6" dy="-2.8">&#8211;/&#8211;</tspan><tspan dy="2.8"> #2</tspan></text>
<path d="M478.60,189.60 l1.2,2.1 h-2.4z" fill="#33a03e"/>
<text x="482.6" y="193.30" font-size="7.2" fill="#3a8f3e" stroke="#3a8f3e" stroke-width="0.1" textLength="27.0" lengthAdjust="spacingAndGlyphs"><tspan font-style="italic">BAX</tspan><tspan font-size="4.6" dy="-2.8">&#8211;/&#8211;</tspan><tspan dy="2.8"> #3</tspan></text>
<text x="146.00" y="231.40" font-size="8.6" fill="#231f20" text-anchor="middle" textLength="100.40" lengthAdjust="spacingAndGlyphs"  stroke="#231f20" stroke-width="0.12">NCI-H929 and XG7 clones</text>
<line x1="43.60" y1="248.50" x2="43.60" y2="308.80" stroke="#231f20" stroke-width="1" />
<line x1="43.10" y1="308.30" x2="122.50" y2="308.30" stroke="#231f20" stroke-width="1" />
<line x1="41.00" y1="308.10" x2="43.60" y2="308.10" stroke="#231f20" stroke-width="0.9" />
<text x="38.40" y="310.20" font-size="7.0" fill="#2a2a2a" text-anchor="end" textLength="8.10" lengthAdjust="spacingAndGlyphs"  stroke="#2a2a2a" stroke-width="0.12">3.5</text>
<line x1="41.00" y1="293.60" x2="43.60" y2="293.60" stroke="#231f20" stroke-width="0.9" />
<text x="38.40" y="295.70" font-size="7.0" fill="#2a2a2a" text-anchor="end" textLength="8.10" lengthAdjust="spacingAndGlyphs"  stroke="#2a2a2a" stroke-width="0.12">4.5</text>
<line x1="41.00" y1="279.10" x2="43.60" y2="279.10" stroke="#231f20" stroke-width="0.9" />
<text x="38.40" y="281.20" font-size="7.0" fill="#2a2a2a" text-anchor="end" textLength="8.10" lengthAdjust="spacingAndGlyphs"  stroke="#2a2a2a" stroke-width="0.12">5.5</text>
<line x1="41.00" y1="264.60" x2="43.60" y2="264.60" stroke="#231f20" stroke-width="0.9" />
<text x="38.40" y="266.70" font-size="7.0" fill="#2a2a2a" text-anchor="end" textLength="8.10" lengthAdjust="spacingAndGlyphs"  stroke="#2a2a2a" stroke-width="0.12">6.5</text>
<line x1="41.00" y1="250.10" x2="43.60" y2="250.10" stroke="#231f20" stroke-width="0.9" />
<text x="38.40" y="252.20" font-size="7.0" fill="#2a2a2a" text-anchor="end" textLength="8.10" lengthAdjust="spacingAndGlyphs"  stroke="#2a2a2a" stroke-width="0.12">7.5</text>
<line x1="44.52" y1="308.30" x2="44.52" y2="309.70" stroke="#231f20" stroke-width="0.6" />
<line x1="48.44" y1="308.30" x2="48.44" y2="309.70" stroke="#231f20" stroke-width="0.6" />
<line x1="51.64" y1="308.30" x2="51.64" y2="309.70" stroke="#231f20" stroke-width="0.6" />
<line x1="54.34" y1="308.30" x2="54.34" y2="309.70" stroke="#231f20" stroke-width="0.6" />
<line x1="56.68" y1="308.30" x2="56.68" y2="309.70" stroke="#231f20" stroke-width="0.6" />
<line x1="58.75" y1="308.30" x2="58.75" y2="309.70" stroke="#231f20" stroke-width="0.6" />
<line x1="60.60" y1="308.30" x2="60.60" y2="310.70" stroke="#231f20" stroke-width="0.8" />
<line x1="72.76" y1="308.30" x2="72.76" y2="309.70" stroke="#231f20" stroke-width="0.6" />
<line x1="79.88" y1="308.30" x2="79.88" y2="309.70" stroke="#231f20" stroke-width="0.6" />
<line x1="84.92" y1="308.30" x2="84.92" y2="309.70" stroke="#231f20" stroke-width="0.6" />
<line x1="88.84" y1="308.30" x2="88.84" y2="309.70" stroke="#231f20" stroke-width="0.6" />
<line x1="92.04" y1="308.30" x2="92.04" y2="309.70" stroke="#231f20" stroke-width="0.6" />
<line x1="94.74" y1="308.30" x2="94.74" y2="309.70" stroke="#231f20" stroke-width="0.6" />
<line x1="97.08" y1="308.30" x2="97.08" y2="309.70" stroke="#231f20" stroke-width="0.6" />
<line x1="99.15" y1="308.30" x2="99.15" y2="309.70" stroke="#231f20" stroke-width="0.6" />
<line x1="101.00" y1="308.30" x2="101.00" y2="310.70" stroke="#231f20" stroke-width="0.8" />
<line x1="113.16" y1="308.30" x2="113.16" y2="309.70" stroke="#231f20" stroke-width="0.6" />
<line x1="120.28" y1="308.30" x2="120.28" y2="309.70" stroke="#231f20" stroke-width="0.6" />
<text x="60.60" y="318.80" font-size="7.0" fill="#2a2a2a" text-anchor="middle" textLength="6.50" lengthAdjust="spacingAndGlyphs"  stroke="#2a2a2a" stroke-width="0.12">10</text>
<text x="101.00" y="318.80" font-size="7.0" fill="#2a2a2a" text-anchor="middle" textLength="9.75" lengthAdjust="spacingAndGlyphs"  stroke="#2a2a2a" stroke-width="0.12">100</text>
<text x="84.20" y="243.20" font-size="7.0" fill="#333" text-anchor="middle" font-style="italic"  stroke="#333" stroke-width="0.12">BAX</text>
<text x="55.20" y="332.3" font-size="8.2" fill="#2a2a2a" textLength="55.6" lengthAdjust="spacingAndGlyphs" stroke="#2a2a2a" stroke-width="0.12">LD<tspan font-size="5.4" dy="1.8">50</tspan><tspan dy="-1.8"> S63845 (nM)</tspan></text>
<text x="14.60" y="277.50" font-size="7.6" fill="#2a2a2a" text-anchor="middle" textLength="51.70" lengthAdjust="spacingAndGlyphs" transform="rotate(-90 14.60 277.50)"  stroke="#2a2a2a" stroke-width="0.12">mRNA expression</text>
<text x="22.80" y="277.80" font-size="7.6" fill="#2a2a2a" text-anchor="middle" textLength="44.00" lengthAdjust="spacingAndGlyphs" transform="rotate(-90 22.80 277.80)"  stroke="#2a2a2a" stroke-width="0.12">(RNAseq log2)</text>
<line x1="51.20" y1="273.00" x2="51.20" y2="284.00" stroke="#1e2470" stroke-width="0.9" />
<line x1="50.10" y1="273.00" x2="52.30" y2="273.00" stroke="#1e2470" stroke-width="0.9" />
<line x1="50.10" y1="284.00" x2="52.30" y2="284.00" stroke="#1e2470" stroke-width="0.9" />
<rect x="49.90" y="277.20" width="2.60" height="2.60" fill="#1e2470" />
<rect x="49.90" y="280.20" width="2.60" height="2.60" fill="#1e2470" />
<rect x="49.90" y="274.20" width="2.60" height="2.60" fill="#1e2470" />
<rect x="64.70" y="278.00" width="2.60" height="2.60" fill="#111" />
<line x1="69.60" y1="279.00" x2="69.60" y2="283.40" stroke="#dc4535" stroke-width="0.9" />
<line x1="68.50" y1="279.00" x2="70.70" y2="279.00" stroke="#dc4535" stroke-width="0.9" />
<line x1="68.50" y1="283.40" x2="70.70" y2="283.40" stroke="#dc4535" stroke-width="0.9" />
<rect x="68.30" y="279.90" width="2.60" height="2.60" fill="#dc4535" />
<line x1="76.00" y1="279.50" x2="76.00" y2="285.50" stroke="#1e2470" stroke-width="0.9" />
<line x1="74.90" y1="279.50" x2="77.10" y2="279.50" stroke="#1e2470" stroke-width="0.9" />
<line x1="74.90" y1="285.50" x2="77.10" y2="285.50" stroke="#1e2470" stroke-width="0.9" />
<rect x="74.70" y="281.20" width="2.60" height="2.60" fill="#1e2470" />
<line x1="81.30" y1="291.30" x2="81.30" y2="293.70" stroke="#dc4535" stroke-width="0.9" />
<line x1="80.20" y1="291.30" x2="82.40" y2="291.30" stroke="#dc4535" stroke-width="0.9" />
<line x1="80.20" y1="293.70" x2="82.40" y2="293.70" stroke="#dc4535" stroke-width="0.9" />
<rect x="80.00" y="291.20" width="2.60" height="2.60" fill="#dc4535" />
<rect x="86.30" y="281.20" width="2.60" height="2.60" fill="#1e2470" />
<line x1="94.20" y1="287.30" x2="94.20" y2="292.30" stroke="#dc4535" stroke-width="0.9" />
<line x1="93.10" y1="287.30" x2="95.30" y2="287.30" stroke="#dc4535" stroke-width="0.9" />
<line x1="93.10" y1="292.30" x2="95.30" y2="292.30" stroke="#dc4535" stroke-width="0.9" />
<rect x="92.90" y="288.50" width="2.60" height="2.60" fill="#dc4535" />
<line x1="103.10" y1="294.30" x2="103.10" y2="300.30" stroke="#dc4535" stroke-width="0.9" />
<line x1="102.00" y1="294.30" x2="104.20" y2="294.30" stroke="#dc4535" stroke-width="0.9" />
<line x1="102.00" y1="300.30" x2="104.20" y2="300.30" stroke="#dc4535" stroke-width="0.9" />
<rect x="101.80" y="296.00" width="2.60" height="2.60" fill="#dc4535" />
<line x1="107.20" y1="292.30" x2="107.20" y2="294.30" stroke="#dc4535" stroke-width="0.9" />
<line x1="106.10" y1="292.30" x2="108.30" y2="292.30" stroke="#dc4535" stroke-width="0.9" />
<line x1="106.10" y1="294.30" x2="108.30" y2="294.30" stroke="#dc4535" stroke-width="0.9" />
<rect x="105.90" y="292.00" width="2.60" height="2.60" fill="#dc4535" />
<rect x="108.10" y="292.00" width="2.60" height="2.60" fill="#dc4535" />
<text x="56.00" y="266.80" font-size="6.4" fill="#333" textLength="61" lengthAdjust="spacingAndGlyphs" stroke="#333" stroke-width="0.12"><tspan font-style="italic">P</tspan> = .0009 <tspan font-style="italic">r</tspan> = &#8722;0.8521</text>
<line x1="166.30" y1="248.50" x2="166.30" y2="308.80" stroke="#231f20" stroke-width="1" />
<line x1="165.80" y1="308.30" x2="246.50" y2="308.30" stroke="#231f20" stroke-width="1" />
<line x1="163.70" y1="308.10" x2="166.30" y2="308.10" stroke="#231f20" stroke-width="0.9" />
<text x="161.10" y="310.20" font-size="7.0" fill="#2a2a2a" text-anchor="end" textLength="8.10" lengthAdjust="spacingAndGlyphs"  stroke="#2a2a2a" stroke-width="0.12">3.5</text>
<line x1="163.70" y1="293.60" x2="166.30" y2="293.60" stroke="#231f20" stroke-width="0.9" />
<text x="161.10" y="295.70" font-size="7.0" fill="#2a2a2a" text-anchor="end" textLength="8.10" lengthAdjust="spacingAndGlyphs"  stroke="#2a2a2a" stroke-width="0.12">4.5</text>
<line x1="163.70" y1="279.10" x2="166.30" y2="279.10" stroke="#231f20" stroke-width="0.9" />
<text x="161.10" y="281.20" font-size="7.0" fill="#2a2a2a" text-anchor="end" textLength="8.10" lengthAdjust="spacingAndGlyphs"  stroke="#2a2a2a" stroke-width="0.12">5.5</text>
<line x1="163.70" y1="264.60" x2="166.30" y2="264.60" stroke="#231f20" stroke-width="0.9" />
<text x="161.10" y="266.70" font-size="7.0" fill="#2a2a2a" text-anchor="end" textLength="8.10" lengthAdjust="spacingAndGlyphs"  stroke="#2a2a2a" stroke-width="0.12">6.5</text>
<line x1="163.70" y1="250.10" x2="166.30" y2="250.10" stroke="#231f20" stroke-width="0.9" />
<text x="161.10" y="252.20" font-size="7.0" fill="#2a2a2a" text-anchor="end" textLength="8.10" lengthAdjust="spacingAndGlyphs"  stroke="#2a2a2a" stroke-width="0.12">7.5</text>
<line x1="170.52" y1="308.30" x2="170.52" y2="309.70" stroke="#231f20" stroke-width="0.6" />
<line x1="173.67" y1="308.30" x2="173.67" y2="309.70" stroke="#231f20" stroke-width="0.6" />
<line x1="176.33" y1="308.30" x2="176.33" y2="309.70" stroke="#231f20" stroke-width="0.6" />
<line x1="178.64" y1="308.30" x2="178.64" y2="309.70" stroke="#231f20" stroke-width="0.6" />
<line x1="180.68" y1="308.30" x2="180.68" y2="309.70" stroke="#231f20" stroke-width="0.6" />
<line x1="182.50" y1="308.30" x2="182.50" y2="310.70" stroke="#231f20" stroke-width="0.8" />
<line x1="194.48" y1="308.30" x2="194.48" y2="309.70" stroke="#231f20" stroke-width="0.6" />
<line x1="201.49" y1="308.30" x2="201.49" y2="309.70" stroke="#231f20" stroke-width="0.6" />
<line x1="206.46" y1="308.30" x2="206.46" y2="309.70" stroke="#231f20" stroke-width="0.6" />
<line x1="210.32" y1="308.30" x2="210.32" y2="309.70" stroke="#231f20" stroke-width="0.6" />
<line x1="213.47" y1="308.30" x2="213.47" y2="309.70" stroke="#231f20" stroke-width="0.6" />
<line x1="216.13" y1="308.30" x2="216.13" y2="309.70" stroke="#231f20" stroke-width="0.6" />
<line x1="218.44" y1="308.30" x2="218.44" y2="309.70" stroke="#231f20" stroke-width="0.6" />
<line x1="220.48" y1="308.30" x2="220.48" y2="309.70" stroke="#231f20" stroke-width="0.6" />
<line x1="222.30" y1="308.30" x2="222.30" y2="310.70" stroke="#231f20" stroke-width="0.8" />
<line x1="234.28" y1="308.30" x2="234.28" y2="309.70" stroke="#231f20" stroke-width="0.6" />
<line x1="241.29" y1="308.30" x2="241.29" y2="309.70" stroke="#231f20" stroke-width="0.6" />
<line x1="246.26" y1="308.30" x2="246.26" y2="309.70" stroke="#231f20" stroke-width="0.6" />
<text x="182.50" y="318.80" font-size="7.0" fill="#2a2a2a" text-anchor="middle" textLength="6.50" lengthAdjust="spacingAndGlyphs"  stroke="#2a2a2a" stroke-width="0.12">10</text>
<text x="222.30" y="318.80" font-size="7.0" fill="#2a2a2a" text-anchor="middle" textLength="9.75" lengthAdjust="spacingAndGlyphs"  stroke="#2a2a2a" stroke-width="0.12">100</text>
<text x="204.10" y="243.20" font-size="7.0" fill="#333" text-anchor="middle" font-style="italic"  stroke="#333" stroke-width="0.12">BAK1</text>
<text x="177.90" y="332.3" font-size="8.2" fill="#2a2a2a" textLength="55.6" lengthAdjust="spacingAndGlyphs" stroke="#2a2a2a" stroke-width="0.12">LD<tspan font-size="5.4" dy="1.8">50</tspan><tspan dy="-1.8"> S63845 (nM)</tspan></text>
<text x="137.30" y="277.50" font-size="7.6" fill="#2a2a2a" text-anchor="middle" textLength="51.70" lengthAdjust="spacingAndGlyphs" transform="rotate(-90 137.30 277.50)"  stroke="#2a2a2a" stroke-width="0.12">mRNA expression</text>
<text x="145.50" y="277.80" font-size="7.6" fill="#2a2a2a" text-anchor="middle" textLength="44.00" lengthAdjust="spacingAndGlyphs" transform="rotate(-90 145.50 277.80)"  stroke="#2a2a2a" stroke-width="0.12">(RNAseq log2)</text>
<line x1="173.80" y1="260.00" x2="173.80" y2="269.00" stroke="#1e2470" stroke-width="0.9" />
<line x1="172.70" y1="260.00" x2="174.90" y2="260.00" stroke="#1e2470" stroke-width="0.9" />
<line x1="172.70" y1="269.00" x2="174.90" y2="269.00" stroke="#1e2470" stroke-width="0.9" />
<rect x="172.50" y="263.20" width="2.60" height="2.60" fill="#1e2470" />
<rect x="172.50" y="260.70" width="2.60" height="2.60" fill="#1e2470" />
<rect x="172.50" y="265.70" width="2.60" height="2.60" fill="#1e2470" />
<line x1="188.70" y1="272.70" x2="188.70" y2="277.70" stroke="#1e2470" stroke-width="0.9" />
<line x1="187.60" y1="272.70" x2="189.80" y2="272.70" stroke="#1e2470" stroke-width="0.9" />
<line x1="187.60" y1="277.70" x2="189.80" y2="277.70" stroke="#1e2470" stroke-width="0.9" />
<rect x="187.40" y="273.90" width="2.60" height="2.60" fill="#1e2470" />
<line x1="192.20" y1="265.40" x2="192.20" y2="269.00" stroke="#dc4535" stroke-width="0.9" />
<line x1="191.10" y1="265.40" x2="193.30" y2="265.40" stroke="#dc4535" stroke-width="0.9" />
<line x1="191.10" y1="269.00" x2="193.30" y2="269.00" stroke="#dc4535" stroke-width="0.9" />
<rect x="190.90" y="265.90" width="2.60" height="2.60" fill="#dc4535" />
<line x1="198.10" y1="279.50" x2="198.10" y2="285.50" stroke="#1e2470" stroke-width="0.9" />
<line x1="197.00" y1="279.50" x2="199.20" y2="279.50" stroke="#1e2470" stroke-width="0.9" />
<line x1="197.00" y1="285.50" x2="199.20" y2="285.50" stroke="#1e2470" stroke-width="0.9" />
<rect x="196.80" y="281.20" width="2.60" height="2.60" fill="#1e2470" />
<rect x="202.70" y="260.50" width="2.60" height="2.60" fill="#dc4535" />
<line x1="210.20" y1="272.70" x2="210.20" y2="277.70" stroke="#1e2470" stroke-width="0.9" />
<line x1="209.10" y1="272.70" x2="211.30" y2="272.70" stroke="#1e2470" stroke-width="0.9" />
<line x1="209.10" y1="277.70" x2="211.30" y2="277.70" stroke="#1e2470" stroke-width="0.9" />
<rect x="208.90" y="273.90" width="2.60" height="2.60" fill="#1e2470" />
<line x1="216.90" y1="258.20" x2="216.90" y2="263.80" stroke="#dc4535" stroke-width="0.9" />
<line x1="215.80" y1="258.20" x2="218.00" y2="258.20" stroke="#dc4535" stroke-width="0.9" />
<line x1="215.80" y1="263.80" x2="218.00" y2="263.80" stroke="#dc4535" stroke-width="0.9" />
<rect x="215.60" y="259.70" width="2.60" height="2.60" fill="#dc4535" />
<rect x="224.50" y="278.50" width="2.60" height="2.60" fill="#dc4535" />
<line x1="229.20" y1="273.00" x2="229.20" y2="277.40" stroke="#dc4535" stroke-width="0.9" />
<line x1="228.10" y1="273.00" x2="230.30" y2="273.00" stroke="#dc4535" stroke-width="0.9" />
<line x1="228.10" y1="277.40" x2="230.30" y2="277.40" stroke="#dc4535" stroke-width="0.9" />
<rect x="227.90" y="273.90" width="2.60" height="2.60" fill="#dc4535" />
<rect x="229.30" y="276.20" width="2.60" height="2.60" fill="#dc4535" />
<text x="193.20" y="299.60" font-size="6.4" fill="#333" textLength="48.5" lengthAdjust="spacingAndGlyphs" stroke="#333" stroke-width="0.12"><tspan font-style="italic">P</tspan> = .33 <tspan font-style="italic">r</tspan> = &#8722;0.30</text>
<circle cx="55.60" cy="345.50" r="1.0" fill="#1e2470"/>
<text x="59.8" y="348.00" font-size="7.3" fill="#2a2a2a" textLength="46.6" lengthAdjust="spacingAndGlyphs" stroke="#2a2a2a" stroke-width="0.12">NCI-H929 <tspan font-style="italic">TP53</tspan><tspan font-size="3.9" dy="-2.8">+/+</tspan></text>
<circle cx="55.60" cy="355.50" r="1.0" fill="#dc4535"/>
<text x="59.8" y="358.00" font-size="7.3" fill="#2a2a2a" textLength="46.6" lengthAdjust="spacingAndGlyphs" stroke="#2a2a2a" stroke-width="0.12">NCI-H929 <tspan font-style="italic">TP53</tspan><tspan font-size="3.9" dy="-2.8">&#8211;/&#8211;</tspan></text>
<circle cx="55.60" cy="365.80" r="1.0" fill="#1e2470"/>
<text x="59.8" y="368.30" font-size="7.3" fill="#2a2a2a" textLength="34.8" lengthAdjust="spacingAndGlyphs" stroke="#2a2a2a" stroke-width="0.12">XG7 <tspan font-style="italic">TP53</tspan><tspan font-size="3.9" dy="-2.8">+/+</tspan></text>
<circle cx="55.60" cy="375.60" r="1.0" fill="#dc4535"/>
<text x="59.8" y="378.10" font-size="7.3" fill="#2a2a2a" textLength="34.8" lengthAdjust="spacingAndGlyphs" stroke="#2a2a2a" stroke-width="0.12">XG7 <tspan font-style="italic">TP53</tspan><tspan font-size="3.9" dy="-2.8">&#8211;/&#8211;</tspan></text>
<circle cx="179.80" cy="345.50" r="1.0" fill="#1e2470"/>
<text x="184.0" y="348.00" font-size="7.3" fill="#2a2a2a" textLength="46.6" lengthAdjust="spacingAndGlyphs" stroke="#2a2a2a" stroke-width="0.12">NCI-H929 <tspan font-style="italic">TP53</tspan><tspan font-size="3.9" dy="-2.8">+/+</tspan></text>
<circle cx="179.80" cy="355.50" r="1.0" fill="#dc4535"/>
<text x="184.0" y="358.00" font-size="7.3" fill="#2a2a2a" textLength="46.6" lengthAdjust="spacingAndGlyphs" stroke="#2a2a2a" stroke-width="0.12">NCI-H929 <tspan font-style="italic">TP53</tspan><tspan font-size="3.9" dy="-2.8">&#8211;/&#8211;</tspan></text>
<circle cx="179.80" cy="365.80" r="1.0" fill="#1e2470"/>
<text x="184.0" y="368.30" font-size="7.3" fill="#2a2a2a" textLength="34.8" lengthAdjust="spacingAndGlyphs" stroke="#2a2a2a" stroke-width="0.12">XG7 <tspan font-style="italic">TP53</tspan><tspan font-size="3.9" dy="-2.8">+/+</tspan></text>
<circle cx="179.80" cy="375.60" r="1.0" fill="#dc4535"/>
<text x="184.0" y="378.10" font-size="7.3" fill="#2a2a2a" textLength="34.8" lengthAdjust="spacingAndGlyphs" stroke="#2a2a2a" stroke-width="0.12">XG7 <tspan font-style="italic">TP53</tspan><tspan font-size="3.9" dy="-2.8">&#8211;/&#8211;</tspan></text>
<text x="404.20" y="231.60" font-size="8.6" fill="#231f20" text-anchor="middle" textLength="27.00" lengthAdjust="spacingAndGlyphs"  stroke="#231f20" stroke-width="0.12">HMCLs</text>
<line x1="299.80" y1="249.00" x2="299.80" y2="308.60" stroke="#231f20" stroke-width="1" />
<line x1="299.30" y1="308.10" x2="376.40" y2="308.10" stroke="#231f20" stroke-width="1" />
<line x1="297.00" y1="308.10" x2="299.80" y2="308.10" stroke="#231f20" stroke-width="0.9" />
<text x="294.80" y="310.20" font-size="7.0" fill="#2a2a2a" text-anchor="end" textLength="6.50" lengthAdjust="spacingAndGlyphs"  stroke="#2a2a2a" stroke-width="0.12">10</text>
<line x1="297.00" y1="279.80" x2="299.80" y2="279.80" stroke="#231f20" stroke-width="0.9" />
<text x="294.80" y="281.90" font-size="7.0" fill="#2a2a2a" text-anchor="end" textLength="9.75" lengthAdjust="spacingAndGlyphs"  stroke="#2a2a2a" stroke-width="0.12">100</text>
<line x1="297.00" y1="251.50" x2="299.80" y2="251.50" stroke="#231f20" stroke-width="0.9" />
<text x="294.80" y="253.60" font-size="7.0" fill="#2a2a2a" text-anchor="end" textLength="13.00" lengthAdjust="spacingAndGlyphs"  stroke="#2a2a2a" stroke-width="0.12">1000</text>
<line x1="300.30" y1="308.10" x2="300.30" y2="310.50" stroke="#231f20" stroke-width="0.9" />
<text x="300.30" y="318.80" font-size="7.0" fill="#2a2a2a" text-anchor="middle" textLength="3.25" lengthAdjust="spacingAndGlyphs"  stroke="#2a2a2a" stroke-width="0.12">1</text>
<line x1="325.40" y1="308.10" x2="325.40" y2="310.50" stroke="#231f20" stroke-width="0.9" />
<text x="325.40" y="318.80" font-size="7.0" fill="#2a2a2a" text-anchor="middle" textLength="6.50" lengthAdjust="spacingAndGlyphs"  stroke="#2a2a2a" stroke-width="0.12">10</text>
<line x1="350.50" y1="308.10" x2="350.50" y2="310.50" stroke="#231f20" stroke-width="0.9" />
<text x="350.50" y="318.80" font-size="7.0" fill="#2a2a2a" text-anchor="middle" textLength="9.75" lengthAdjust="spacingAndGlyphs"  stroke="#2a2a2a" stroke-width="0.12">100</text>
<line x1="375.60" y1="308.10" x2="375.60" y2="310.50" stroke="#231f20" stroke-width="0.9" />
<text x="375.60" y="318.80" font-size="7.0" fill="#2a2a2a" text-anchor="middle" textLength="13.00" lengthAdjust="spacingAndGlyphs"  stroke="#2a2a2a" stroke-width="0.12">1000</text>
<text x="338.60" y="243.00" font-size="7.0" fill="#333" text-anchor="middle" font-style="italic"  stroke="#333" stroke-width="0.12">BAX</text>
<text x="312.00" y="332.3" font-size="8.2" fill="#2a2a2a" textLength="54.4" lengthAdjust="spacingAndGlyphs" stroke="#2a2a2a" stroke-width="0.12">LD<tspan font-size="5.4" dy="1.8">50</tspan><tspan dy="-1.8"> S63845 (nM)</tspan></text>
<text x="266.00" y="277.60" font-size="7.6" fill="#2a2a2a" text-anchor="middle" textLength="51.20" lengthAdjust="spacingAndGlyphs" transform="rotate(-90 266.00 277.60)"  stroke="#2a2a2a" stroke-width="0.12">mRNA expression</text>
<text x="274.20" y="278.30" font-size="7.6" fill="#2a2a2a" text-anchor="middle" textLength="45.60" lengthAdjust="spacingAndGlyphs" transform="rotate(-90 274.20 278.30)"  stroke="#2a2a2a" stroke-width="0.12">(211833_s_at)</text>
<circle cx="311.93" cy="259.08" r="1.25" fill="#111"/>
<circle cx="326.74" cy="257.47" r="1.25" fill="#111"/>
<circle cx="324.85" cy="261.77" r="1.25" fill="#111"/>
<circle cx="332.12" cy="269.04" r="1.25" fill="#111"/>
<circle cx="339.39" cy="269.04" r="1.25" fill="#111"/>
<circle cx="319.47" cy="275.24" r="1.25" fill="#111"/>
<circle cx="323.24" cy="272.54" r="1.25" fill="#111"/>
<circle cx="324.85" cy="274.43" r="1.25" fill="#111"/>
<circle cx="329.43" cy="280.62" r="1.25" fill="#111"/>
<circle cx="330.78" cy="281.70" r="1.25" fill="#111"/>
<circle cx="336.97" cy="276.31" r="1.25" fill="#111"/>
<circle cx="338.85" cy="274.43" r="1.25" fill="#111"/>
<circle cx="341.01" cy="277.93" r="1.25" fill="#111"/>
<circle cx="317.31" cy="281.70" r="1.25" fill="#111"/>
<circle cx="324.04" cy="282.51" r="1.25" fill="#111"/>
<circle cx="330.78" cy="284.39" r="1.25" fill="#111"/>
<circle cx="346.39" cy="276.31" r="1.25" fill="#111"/>
<circle cx="347.47" cy="275.24" r="1.25" fill="#111"/>
<circle cx="351.78" cy="275.24" r="1.25" fill="#111"/>
<circle cx="357.16" cy="275.24" r="1.25" fill="#111"/>
<circle cx="357.70" cy="277.93" r="1.25" fill="#111"/>
<circle cx="358.24" cy="281.16" r="1.25" fill="#111"/>
<circle cx="362.01" cy="284.39" r="1.25" fill="#111"/>
<circle cx="357.70" cy="287.89" r="1.25" fill="#111"/>
<circle cx="362.55" cy="284.39" r="1.25" fill="#111"/>
<circle cx="363.09" cy="288.70" r="1.25" fill="#111"/>
<circle cx="367.12" cy="276.31" r="1.25" fill="#111"/>
<circle cx="367.12" cy="288.70" r="1.25" fill="#111"/>
<circle cx="363.09" cy="291.39" r="1.25" fill="#111"/>
<circle cx="334.81" cy="292.47" r="1.25" fill="#111"/>
<circle cx="364.43" cy="290.58" r="1.25" fill="#111"/>
<text x="311.40" y="300.20" font-size="6.4" fill="#333" textLength="61" lengthAdjust="spacingAndGlyphs" stroke="#333" stroke-width="0.12"><tspan font-style="italic">P</tspan> = .0048 <tspan font-style="italic">r</tspan> = &#8722;0.5011</text>
<line x1="431.20" y1="249.00" x2="431.20" y2="308.60" stroke="#231f20" stroke-width="1" />
<line x1="430.70" y1="308.10" x2="507.80" y2="308.10" stroke="#231f20" stroke-width="1" />
<line x1="428.40" y1="308.10" x2="431.20" y2="308.10" stroke="#231f20" stroke-width="0.9" />
<text x="426.20" y="310.20" font-size="7.0" fill="#2a2a2a" text-anchor="end" textLength="6.50" lengthAdjust="spacingAndGlyphs"  stroke="#2a2a2a" stroke-width="0.12">10</text>
<line x1="428.40" y1="279.80" x2="431.20" y2="279.80" stroke="#231f20" stroke-width="0.9" />
<text x="426.20" y="281.90" font-size="7.0" fill="#2a2a2a" text-anchor="end" textLength="9.75" lengthAdjust="spacingAndGlyphs"  stroke="#2a2a2a" stroke-width="0.12">100</text>
<line x1="428.40" y1="251.50" x2="431.20" y2="251.50" stroke="#231f20" stroke-width="0.9" />
<text x="426.20" y="253.60" font-size="7.0" fill="#2a2a2a" text-anchor="end" textLength="13.00" lengthAdjust="spacingAndGlyphs"  stroke="#2a2a2a" stroke-width="0.12">1000</text>
<line x1="431.70" y1="308.10" x2="431.70" y2="310.50" stroke="#231f20" stroke-width="0.9" />
<text x="431.70" y="318.80" font-size="7.0" fill="#2a2a2a" text-anchor="middle" textLength="3.25" lengthAdjust="spacingAndGlyphs"  stroke="#2a2a2a" stroke-width="0.12">1</text>
<line x1="456.80" y1="308.10" x2="456.80" y2="310.50" stroke="#231f20" stroke-width="0.9" />
<text x="456.80" y="318.80" font-size="7.0" fill="#2a2a2a" text-anchor="middle" textLength="6.50" lengthAdjust="spacingAndGlyphs"  stroke="#2a2a2a" stroke-width="0.12">10</text>
<line x1="481.90" y1="308.10" x2="481.90" y2="310.50" stroke="#231f20" stroke-width="0.9" />
<text x="481.90" y="318.80" font-size="7.0" fill="#2a2a2a" text-anchor="middle" textLength="9.75" lengthAdjust="spacingAndGlyphs"  stroke="#2a2a2a" stroke-width="0.12">100</text>
<line x1="507.00" y1="308.10" x2="507.00" y2="310.50" stroke="#231f20" stroke-width="0.9" />
<text x="507.00" y="318.80" font-size="7.0" fill="#2a2a2a" text-anchor="middle" textLength="13.00" lengthAdjust="spacingAndGlyphs"  stroke="#2a2a2a" stroke-width="0.12">1000</text>
<text x="469.60" y="243.00" font-size="7.0" fill="#333" text-anchor="middle" font-style="italic"  stroke="#333" stroke-width="0.12">BAK1</text>
<text x="443.40" y="332.3" font-size="8.2" fill="#2a2a2a" textLength="54.4" lengthAdjust="spacingAndGlyphs" stroke="#2a2a2a" stroke-width="0.12">LD<tspan font-size="5.4" dy="1.8">50</tspan><tspan dy="-1.8"> S63845 (nM)</tspan></text>
<text x="396.00" y="277.60" font-size="7.6" fill="#2a2a2a" text-anchor="middle" textLength="51.20" lengthAdjust="spacingAndGlyphs" transform="rotate(-90 396.00 277.60)"  stroke="#2a2a2a" stroke-width="0.12">mRNA expression</text>
<text x="404.20" y="278.30" font-size="7.6" fill="#2a2a2a" text-anchor="middle" textLength="40.20" lengthAdjust="spacingAndGlyphs" transform="rotate(-90 404.20 278.30)"  stroke="#2a2a2a" stroke-width="0.12">(203304_at)</text>
<circle cx="442.47" cy="261.77" r="1.25" fill="#111"/>
<circle cx="450.54" cy="267.70" r="1.25" fill="#111"/>
<circle cx="448.66" cy="270.93" r="1.25" fill="#111"/>
<circle cx="455.39" cy="265.54" r="1.25" fill="#111"/>
<circle cx="455.39" cy="269.04" r="1.25" fill="#111"/>
<circle cx="455.93" cy="273.08" r="1.25" fill="#111"/>
<circle cx="458.62" cy="273.08" r="1.25" fill="#111"/>
<circle cx="460.78" cy="270.93" r="1.25" fill="#111"/>
<circle cx="462.12" cy="273.08" r="1.25" fill="#111"/>
<circle cx="454.85" cy="277.93" r="1.25" fill="#111"/>
<circle cx="460.78" cy="277.93" r="1.25" fill="#111"/>
<circle cx="463.47" cy="279.01" r="1.25" fill="#111"/>
<circle cx="465.62" cy="277.12" r="1.25" fill="#111"/>
<circle cx="468.05" cy="260.97" r="1.25" fill="#111"/>
<circle cx="471.01" cy="275.24" r="1.25" fill="#111"/>
<circle cx="472.89" cy="275.24" r="1.25" fill="#111"/>
<circle cx="478.28" cy="273.62" r="1.25" fill="#111"/>
<circle cx="479.08" cy="275.24" r="1.25" fill="#111"/>
<circle cx="482.85" cy="276.31" r="1.25" fill="#111"/>
<circle cx="489.05" cy="268.24" r="1.25" fill="#111"/>
<circle cx="488.24" cy="271.74" r="1.25" fill="#111"/>
<circle cx="489.05" cy="273.08" r="1.25" fill="#111"/>
<circle cx="492.55" cy="265.54" r="1.25" fill="#111"/>
<circle cx="494.43" cy="265.54" r="1.25" fill="#111"/>
<circle cx="495.24" cy="265.54" r="1.25" fill="#111"/>
<circle cx="498.47" cy="269.04" r="1.25" fill="#111"/>
<circle cx="498.47" cy="274.43" r="1.25" fill="#111"/>
<circle cx="488.51" cy="283.05" r="1.25" fill="#111"/>
<circle cx="495.24" cy="289.24" r="1.25" fill="#111"/>
<text x="447.30" y="295.60" font-size="6.4" fill="#333" textLength="40.4" lengthAdjust="spacingAndGlyphs" stroke="#333" stroke-width="0.12"><tspan font-style="italic">P</tspan> = .6 <tspan font-style="italic">r</tspan> = &#8722;0.1</text>
<text x="112.20" y="417.60" font-size="8.4" fill="#231f20" text-anchor="middle" textLength="37.80" lengthAdjust="spacingAndGlyphs"  stroke="#231f20" stroke-width="0.12">NCI-H929</text>
<text x="69.10" y="428.80" font-size="7.4" fill="#2a2a2a" textLength="16.70" lengthAdjust="spacingAndGlyphs"  stroke="#2a2a2a" stroke-width="0.12">Input</text>
<text x="97.00" y="428.80" font-size="7.4" fill="#2a2a2a" textLength="29.60" lengthAdjust="spacingAndGlyphs"  stroke="#2a2a2a" stroke-width="0.12">IP MCL-1</text>
<text x="135.10" y="428.80" font-size="7.4" fill="#2a2a2a" textLength="22.20" lengthAdjust="spacingAndGlyphs"  stroke="#2a2a2a" stroke-width="0.12">output</text>
<text x="60.40" y="470.40" font-size="7.4" fill="#2a2a2a" text-anchor="end" textLength="17.60" lengthAdjust="spacingAndGlyphs"  stroke="#2a2a2a" stroke-width="0.12">MCL-1</text>
<rect x="65.40" y="463.30" width="24.90" height="9.6" fill="url(#bg)" stroke="#303030" stroke-width="1.1"/>
<path d="M67.08,468.20 Q71.30,468.20 75.52,468.20" fill="none" stroke="#aaaaaa" stroke-width="1.55" stroke-linecap="round" filter="url(#bl)"/>
<path d="M79.05,468.20 Q83.10,468.20 87.15,468.20" fill="none" stroke="#b5b5b5" stroke-width="1.50" stroke-linecap="round" filter="url(#bl)"/>
<rect x="99.10" y="463.30" width="24.30" height="9.6" fill="url(#bg)" stroke="#303030" stroke-width="1.1"/>
<path d="M102.23,468.20 Q106.10,468.20 109.96,468.20" fill="none" stroke="#171717" stroke-width="2.27" stroke-linecap="round" filter="url(#bl)"/>
<path d="M114.04,468.20 Q117.70,468.20 121.36,468.20" fill="none" stroke="#171717" stroke-width="2.27" stroke-linecap="round" filter="url(#bl)"/>
<rect x="133.10" y="463.30" width="25.30" height="9.6" fill="url(#bg)" stroke="#303030" stroke-width="1.1"/>
<text x="60.40" y="483.60" font-size="7.4" fill="#2a2a2a" text-anchor="end" textLength="12.60" lengthAdjust="spacingAndGlyphs"  stroke="#2a2a2a" stroke-width="0.12">BAX</text>
<rect x="65.40" y="476.50" width="24.90" height="9.6" fill="url(#bg)" stroke="#303030" stroke-width="1.1"/>
<path d="M67.42,481.70 Q71.30,481.10 75.17,481.70" fill="none" stroke="#1b1b1b" stroke-width="2.25" stroke-linecap="round" filter="url(#bl)"/>
<path d="M79.09,481.40 Q83.10,481.40 87.11,481.40" fill="none" stroke="#a4a4a4" stroke-width="1.58" stroke-linecap="round" filter="url(#bl)"/>
<rect x="99.10" y="476.50" width="24.30" height="9.6" fill="url(#bg)" stroke="#303030" stroke-width="1.1"/>
<path d="M102.21,480.80 Q106.10,482.00 109.99,480.80" fill="none" stroke="#212121" stroke-width="2.22" stroke-linecap="round" filter="url(#bl)"/>
<path d="M113.61,481.40 Q117.70,481.40 121.79,481.40" fill="none" stroke="#c5c5c5" stroke-width="1.42" stroke-linecap="round" filter="url(#bl)"/>
<rect x="133.10" y="476.50" width="25.30" height="9.6" fill="url(#bg)" stroke="#303030" stroke-width="1.1"/>
<path d="M137.31,481.40 Q141.20,481.40 145.09,481.40" fill="none" stroke="#212121" stroke-width="2.22" stroke-linecap="round" filter="url(#bl)"/>
<path d="M148.38,481.40 Q152.30,481.40 156.23,481.40" fill="none" stroke="#818181" stroke-width="1.75" stroke-linecap="round" filter="url(#bl)"/>
<text x="60.40" y="496.70" font-size="7.4" fill="#2a2a2a" text-anchor="end" textLength="12.60" lengthAdjust="spacingAndGlyphs"  stroke="#2a2a2a" stroke-width="0.12">BAK</text>
<rect x="65.40" y="489.60" width="24.90" height="9.6" fill="url(#bg)" stroke="#303030" stroke-width="1.1"/>
<path d="M67.25,494.50 Q71.30,494.50 75.35,494.50" fill="none" stroke="#636363" stroke-width="1.90" stroke-linecap="round" filter="url(#bl)"/>
<path d="M79.41,494.50 Q83.10,494.50 86.79,494.50" fill="none" stroke="#212121" stroke-width="2.22" stroke-linecap="round" filter="url(#bl)"/>
<rect x="99.10" y="489.60" width="24.30" height="9.6" fill="url(#bg)" stroke="#303030" stroke-width="1.1"/>
<path d="M102.12,494.50 Q106.10,494.50 110.07,494.50" fill="none" stroke="#444444" stroke-width="2.05" stroke-linecap="round" filter="url(#bl)"/>
<path d="M114.00,494.80 Q117.70,494.20 121.40,494.80" fill="none" stroke="#252525" stroke-width="2.20" stroke-linecap="round" filter="url(#bl)"/>
<rect x="133.10" y="489.60" width="25.30" height="9.6" fill="url(#bg)" stroke="#303030" stroke-width="1.1"/>
<path d="M137.15,494.50 Q141.20,494.50 145.25,494.50" fill="none" stroke="#636363" stroke-width="1.90" stroke-linecap="round" filter="url(#bl)"/>
<path d="M148.61,494.50 Q152.30,494.50 155.99,494.50" fill="none" stroke="#212121" stroke-width="2.22" stroke-linecap="round" filter="url(#bl)"/>
<text x="60.40" y="509.80" font-size="7.4" fill="#2a2a2a" text-anchor="end" textLength="14.60" lengthAdjust="spacingAndGlyphs"  stroke="#2a2a2a" stroke-width="0.12">actin</text>
<rect x="65.40" y="502.70" width="24.90" height="9.6" fill="url(#bg)" stroke="#303030" stroke-width="1.1"/>
<path d="M67.44,507.60 Q71.30,507.60 75.16,507.60" fill="none" stroke="#171717" stroke-width="2.27" stroke-linecap="round" filter="url(#bl)"/>
<path d="M79.44,507.60 Q83.10,507.60 86.76,507.60" fill="none" stroke="#171717" stroke-width="2.27" stroke-linecap="round" filter="url(#bl)"/>
<rect x="133.10" y="502.70" width="25.30" height="9.6" fill="url(#bg)" stroke="#303030" stroke-width="1.1"/>
<path d="M137.32,507.60 Q141.20,507.60 145.07,507.60" fill="none" stroke="#1b1b1b" stroke-width="2.25" stroke-linecap="round" filter="url(#bl)"/>
<path d="M148.62,507.60 Q152.30,507.60 155.98,507.60" fill="none" stroke="#1b1b1b" stroke-width="2.25" stroke-linecap="round" filter="url(#bl)"/>
<text x="69.60" y="460.20" font-size="7.2" fill="#2a2a2a" textLength="27.8" lengthAdjust="spacingAndGlyphs" transform="rotate(-45 69.60 460.20)" stroke="#2a2a2a" stroke-width="0.12"><tspan font-style="italic">TP53</tspan><tspan font-size="4.4" dy="-2.6">+/+</tspan><tspan dy="2.6"> #1</tspan></text>
<text x="81.00" y="460.20" font-size="7.2" fill="#2a2a2a" textLength="27.8" lengthAdjust="spacingAndGlyphs" transform="rotate(-45 81.00 460.20)" stroke="#2a2a2a" stroke-width="0.12"><tspan font-style="italic">TP53</tspan><tspan font-size="4.4" dy="-2.6">&#8211;/&#8211;</tspan><tspan dy="2.6"> #2</tspan></text>
<text x="103.30" y="460.20" font-size="7.2" fill="#2a2a2a" textLength="27.8" lengthAdjust="spacingAndGlyphs" transform="rotate(-45 103.30 460.20)" stroke="#2a2a2a" stroke-width="0.12"><tspan font-style="italic">TP53</tspan><tspan font-size="4.4" dy="-2.6">+/+</tspan><tspan dy="2.6"> #1</tspan></text>
<text x="114.70" y="460.20" font-size="7.2" fill="#2a2a2a" textLength="27.8" lengthAdjust="spacingAndGlyphs" transform="rotate(-45 114.70 460.20)" stroke="#2a2a2a" stroke-width="0.12"><tspan font-style="italic">TP53</tspan><tspan font-size="4.4" dy="-2.6">&#8211;/&#8211;</tspan><tspan dy="2.6"> #2</tspan></text>
<text x="137.30" y="460.20" font-size="7.2" fill="#2a2a2a" textLength="27.8" lengthAdjust="spacingAndGlyphs" transform="rotate(-45 137.30 460.20)" stroke="#2a2a2a" stroke-width="0.12"><tspan font-style="italic">TP53</tspan><tspan font-size="4.4" dy="-2.6">+/+</tspan><tspan dy="2.6"> #1</tspan></text>
<text x="148.70" y="460.20" font-size="7.2" fill="#2a2a2a" textLength="27.8" lengthAdjust="spacingAndGlyphs" transform="rotate(-45 148.70 460.20)" stroke="#2a2a2a" stroke-width="0.12"><tspan font-style="italic">TP53</tspan><tspan font-size="4.4" dy="-2.6">&#8211;/&#8211;</tspan><tspan dy="2.6"> #2</tspan></text>
<text x="253.20" y="416.40" font-size="8.4" fill="#231f20" text-anchor="middle" textLength="16.60" lengthAdjust="spacingAndGlyphs"  stroke="#231f20" stroke-width="0.12">XG7</text>
<text x="209.70" y="427.50" font-size="7.4" fill="#2a2a2a" textLength="17.60" lengthAdjust="spacingAndGlyphs"  stroke="#2a2a2a" stroke-width="0.12">Input</text>
<text x="238.00" y="427.50" font-size="7.4" fill="#2a2a2a" textLength="30.30" lengthAdjust="spacingAndGlyphs"  stroke="#2a2a2a" stroke-width="0.12">IP MCL-1</text>
<text x="275.70" y="427.50" font-size="7.4" fill="#2a2a2a" textLength="22.80" lengthAdjust="spacingAndGlyphs"  stroke="#2a2a2a" stroke-width="0.12">output</text>
<text x="200.60" y="470.40" font-size="7.4" fill="#2a2a2a" text-anchor="end" textLength="17.60" lengthAdjust="spacingAndGlyphs"  stroke="#2a2a2a" stroke-width="0.12">MCL-1</text>
<rect x="205.70" y="463.30" width="25.30" height="9.6" fill="url(#bg)" stroke="#303030" stroke-width="1.1"/>
<path d="M208.28,468.20 Q212.40,468.20 216.53,468.20" fill="none" stroke="#818181" stroke-width="1.75" stroke-linecap="round" filter="url(#bl)"/>
<path d="M220.45,468.20 Q224.40,468.20 228.35,468.20" fill="none" stroke="#8c8c8c" stroke-width="1.70" stroke-linecap="round" filter="url(#bl)"/>
<rect x="240.10" y="463.30" width="24.60" height="9.6" fill="url(#bg)" stroke="#303030" stroke-width="1.1"/>
<path d="M242.94,468.20 Q246.80,468.20 250.67,468.20" fill="none" stroke="#171717" stroke-width="2.27" stroke-linecap="round" filter="url(#bl)"/>
<path d="M255.73,468.20 Q259.40,468.20 263.06,468.20" fill="none" stroke="#171717" stroke-width="2.27" stroke-linecap="round" filter="url(#bl)"/>
<rect x="274.10" y="463.30" width="25.30" height="9.6" fill="url(#bg)" stroke="#303030" stroke-width="1.1"/>
<text x="200.60" y="483.60" font-size="7.4" fill="#2a2a2a" text-anchor="end" textLength="12.60" lengthAdjust="spacingAndGlyphs"  stroke="#2a2a2a" stroke-width="0.12">BAX</text>
<rect x="205.70" y="476.50" width="25.30" height="9.6" fill="url(#bg)" stroke="#303030" stroke-width="1.1"/>
<path d="M208.53,482.20 Q212.40,480.60 216.27,482.20" fill="none" stroke="#171717" stroke-width="2.27" stroke-linecap="round" filter="url(#bl)"/>
<path d="M220.55,482.20 Q224.40,480.60 228.25,482.20" fill="none" stroke="#636363" stroke-width="1.90" stroke-linecap="round" filter="url(#bl)"/>
<rect x="240.10" y="476.50" width="24.60" height="9.6" fill="url(#bg)" stroke="#303030" stroke-width="1.1"/>
<path d="M242.90,481.70 Q246.80,481.10 250.70,481.70" fill="none" stroke="#252525" stroke-width="2.20" stroke-linecap="round" filter="url(#bl)"/>
<path d="M255.55,481.40 Q259.40,481.40 263.25,481.40" fill="none" stroke="#636363" stroke-width="1.90" stroke-linecap="round" filter="url(#bl)"/>
<rect x="274.10" y="476.50" width="25.30" height="9.6" fill="url(#bg)" stroke="#303030" stroke-width="1.1"/>
<path d="M278.02,481.70 Q281.90,481.10 285.77,481.70" fill="none" stroke="#1b1b1b" stroke-width="2.25" stroke-linecap="round" filter="url(#bl)"/>
<path d="M289.73,481.40 Q293.60,481.40 297.48,481.40" fill="none" stroke="#6d6d6d" stroke-width="1.85" stroke-linecap="round" filter="url(#bl)"/>
<text x="200.60" y="496.70" font-size="7.4" fill="#2a2a2a" text-anchor="end" textLength="12.60" lengthAdjust="spacingAndGlyphs"  stroke="#2a2a2a" stroke-width="0.12">BAK</text>
<rect x="205.70" y="489.60" width="25.30" height="9.6" fill="url(#bg)" stroke="#303030" stroke-width="1.1"/>
<path d="M208.53,495.10 Q212.40,493.90 216.27,495.10" fill="none" stroke="#171717" stroke-width="2.27" stroke-linecap="round" filter="url(#bl)"/>
<path d="M220.72,495.10 Q224.40,493.90 228.08,495.10" fill="none" stroke="#1b1b1b" stroke-width="2.25" stroke-linecap="round" filter="url(#bl)"/>
<rect x="240.10" y="489.60" width="24.60" height="9.6" fill="url(#bg)" stroke="#303030" stroke-width="1.1"/>
<path d="M242.65,494.50 Q246.80,494.50 250.95,494.50" fill="none" stroke="#8c8c8c" stroke-width="1.70" stroke-linecap="round" filter="url(#bl)"/>
<path d="M255.62,494.50 Q259.40,494.50 263.18,494.50" fill="none" stroke="#444444" stroke-width="2.05" stroke-linecap="round" filter="url(#bl)"/>
<rect x="274.10" y="489.60" width="25.30" height="9.6" fill="url(#bg)" stroke="#303030" stroke-width="1.1"/>
<path d="M278.00,494.50 Q281.90,494.50 285.80,494.50" fill="none" stroke="#252525" stroke-width="2.20" stroke-linecap="round" filter="url(#bl)"/>
<path d="M289.90,494.50 Q293.60,494.50 297.30,494.50" fill="none" stroke="#252525" stroke-width="2.20" stroke-linecap="round" filter="url(#bl)"/>
<text x="200.60" y="509.80" font-size="7.4" fill="#2a2a2a" text-anchor="end" textLength="19.00" lengthAdjust="spacingAndGlyphs"  stroke="#2a2a2a" stroke-width="0.12">tubulin</text>
<rect x="205.70" y="502.70" width="25.30" height="9.6" fill="url(#bg)" stroke="#303030" stroke-width="1.1"/>
<path d="M208.53,507.90 Q212.40,507.30 216.27,507.90" fill="none" stroke="#171717" stroke-width="2.27" stroke-linecap="round" filter="url(#bl)"/>
<path d="M220.73,507.90 Q224.40,507.30 228.07,507.90" fill="none" stroke="#171717" stroke-width="2.27" stroke-linecap="round" filter="url(#bl)"/>
<rect x="274.10" y="502.70" width="25.30" height="9.6" fill="url(#bg)" stroke="#303030" stroke-width="1.1"/>
<path d="M278.01,507.60 Q281.90,507.60 285.79,507.60" fill="none" stroke="#212121" stroke-width="2.22" stroke-linecap="round" filter="url(#bl)"/>
<path d="M289.91,507.60 Q293.60,507.60 297.29,507.60" fill="none" stroke="#212121" stroke-width="2.22" stroke-linecap="round" filter="url(#bl)"/>
<text x="210.80" y="460.20" font-size="7.2" fill="#2a2a2a" textLength="27.6" lengthAdjust="spacingAndGlyphs" transform="rotate(-45 210.80 460.20)" stroke="#2a2a2a" stroke-width="0.12"><tspan font-style="italic">TP53</tspan><tspan font-size="4.4" dy="-2.6">+/+</tspan><tspan dy="2.6"> #1</tspan></text>
<text x="222.20" y="460.20" font-size="7.2" fill="#2a2a2a" textLength="27.6" lengthAdjust="spacingAndGlyphs" transform="rotate(-45 222.20 460.20)" stroke="#2a2a2a" stroke-width="0.12"><tspan font-style="italic">TP53</tspan><tspan font-size="4.4" dy="-2.6">&#8211;/&#8211;</tspan><tspan dy="2.6"> #1</tspan></text>
<text x="245.20" y="460.20" font-size="7.2" fill="#2a2a2a" textLength="27.6" lengthAdjust="spacingAndGlyphs" transform="rotate(-45 245.20 460.20)" stroke="#2a2a2a" stroke-width="0.12"><tspan font-style="italic">TP53</tspan><tspan font-size="4.4" dy="-2.6">+/+</tspan><tspan dy="2.6"> #1</tspan></text>
<text x="256.60" y="460.20" font-size="7.2" fill="#2a2a2a" textLength="27.6" lengthAdjust="spacingAndGlyphs" transform="rotate(-45 256.60 460.20)" stroke="#2a2a2a" stroke-width="0.12"><tspan font-style="italic">TP53</tspan><tspan font-size="4.4" dy="-2.6">&#8211;/&#8211;</tspan><tspan dy="2.6"> #1</tspan></text>
<text x="279.20" y="460.20" font-size="7.2" fill="#2a2a2a" textLength="27.6" lengthAdjust="spacingAndGlyphs" transform="rotate(-45 279.20 460.20)" stroke="#2a2a2a" stroke-width="0.12"><tspan font-style="italic">TP53</tspan><tspan font-size="4.4" dy="-2.6">+/+</tspan><tspan dy="2.6"> #1</tspan></text>
<text x="290.60" y="460.20" font-size="7.2" fill="#2a2a2a" textLength="27.6" lengthAdjust="spacingAndGlyphs" transform="rotate(-45 290.60 460.20)" stroke="#2a2a2a" stroke-width="0.12"><tspan font-style="italic">TP53</tspan><tspan font-size="4.4" dy="-2.6">&#8211;/&#8211;</tspan><tspan dy="2.6"> #1</tspan></text>
<line x1="356.40" y1="425.50" x2="356.40" y2="499.80" stroke="#231f20" stroke-width="1" />
<line x1="355.90" y1="499.30" x2="423.80" y2="499.30" stroke="#231f20" stroke-width="1" />
<line x1="353.80" y1="499.30" x2="356.40" y2="499.30" stroke="#231f20" stroke-width="0.9" />
<text x="351.80" y="501.50" font-size="6.4" fill="#333" text-anchor="end"  stroke="#333" stroke-width="0.12">0</text>
<line x1="353.80" y1="475.50" x2="356.40" y2="475.50" stroke="#231f20" stroke-width="0.9" />
<text x="351.80" y="477.70" font-size="6.4" fill="#333" text-anchor="end"  stroke="#333" stroke-width="0.12">1</text>
<line x1="353.80" y1="451.70" x2="356.40" y2="451.70" stroke="#231f20" stroke-width="0.9" />
<text x="351.80" y="453.90" font-size="6.4" fill="#333" text-anchor="end"  stroke="#333" stroke-width="0.12">2</text>
<line x1="353.80" y1="427.90" x2="356.40" y2="427.90" stroke="#231f20" stroke-width="0.9" />
<text x="351.80" y="430.10" font-size="6.4" fill="#333" text-anchor="end"  stroke="#333" stroke-width="0.12">3</text>
<line x1="373.00" y1="499.30" x2="373.00" y2="501.50" stroke="#231f20" stroke-width="0.9" />
<line x1="407.00" y1="499.30" x2="407.00" y2="501.50" stroke="#231f20" stroke-width="0.9" />
<text x="373.30" y="509.60" font-size="6.8" fill="#333" text-anchor="middle" textLength="12.80" lengthAdjust="spacingAndGlyphs"  stroke="#333" stroke-width="0.12">BAX</text>
<text x="407.30" y="509.60" font-size="6.8" fill="#333" text-anchor="middle" textLength="11.80" lengthAdjust="spacingAndGlyphs"  stroke="#333" stroke-width="0.12">BAK</text>
<text x="330.60" y="466.50" font-size="7.0" fill="#333" text-anchor="middle" textLength="61.00" lengthAdjust="spacingAndGlyphs" transform="rotate(-90 330.60 466.50)"  stroke="#333" stroke-width="0.12">MCL-1/BAX or BAK</text>
<text x="339.40" y="462.00" font-size="7.0" fill="#333" text-anchor="middle" textLength="32.60" lengthAdjust="spacingAndGlyphs" transform="rotate(-90 339.40 462.00)"  stroke="#333" stroke-width="0.12">complexes</text>
<rect x="365.45" y="466.85" width="2.70" height="2.70" fill="#1e2470" />
<rect x="362.15" y="473.45" width="2.70" height="2.70" fill="#1e2470" />
<rect x="365.25" y="472.65" width="2.70" height="2.70" fill="#1e2470" />
<rect x="368.35" y="474.95" width="2.70" height="2.70" fill="#1e2470" />
<rect x="365.45" y="476.45" width="2.70" height="2.70" fill="#1e2470" />
<rect x="365.45" y="480.05" width="2.70" height="2.70" fill="#1e2470" />
<rect x="378.25" y="475.25" width="2.70" height="2.70" fill="#dc4535" />
<rect x="376.45" y="484.45" width="2.70" height="2.70" fill="#dc4535" />
<rect x="380.05" y="484.45" width="2.70" height="2.70" fill="#dc4535" />
<rect x="376.45" y="495.95" width="2.70" height="2.70" fill="#dc4535" />
<rect x="378.95" y="495.95" width="2.70" height="2.70" fill="#dc4535" />
<rect x="381.55" y="495.95" width="2.70" height="2.70" fill="#dc4535" />
<rect x="397.25" y="466.95" width="2.70" height="2.70" fill="#1e2470" />
<rect x="403.25" y="465.95" width="2.70" height="2.70" fill="#1e2470" />
<rect x="400.25" y="470.75" width="2.70" height="2.70" fill="#1e2470" />
<rect x="400.25" y="473.55" width="2.70" height="2.70" fill="#1e2470" />
<rect x="400.25" y="481.25" width="2.70" height="2.70" fill="#1e2470" />
<rect x="400.25" y="485.45" width="2.70" height="2.70" fill="#1e2470" />
<rect x="412.75" y="446.85" width="2.70" height="2.70" fill="#dc4535" />
<rect x="412.75" y="460.95" width="2.70" height="2.70" fill="#dc4535" />
<rect x="409.75" y="464.55" width="2.70" height="2.70" fill="#dc4535" />
<rect x="415.75" y="464.55" width="2.70" height="2.70" fill="#dc4535" />
<rect x="409.75" y="470.55" width="2.70" height="2.70" fill="#dc4535" />
<rect x="415.75" y="469.35" width="2.70" height="2.70" fill="#dc4535" />
<line x1="362.30" y1="475.40" x2="371.80" y2="475.40" stroke="#231f20" stroke-width="1" />
<line x1="376.00" y1="491.50" x2="383.00" y2="491.50" stroke="#231f20" stroke-width="1" />
<line x1="397.40" y1="474.50" x2="405.80" y2="474.50" stroke="#231f20" stroke-width="1" />
<line x1="409.90" y1="465.90" x2="418.30" y2="465.90" stroke="#231f20" stroke-width="1" />
<polyline points="367.10,463.00 367.10,459.10 379.60,459.10 379.60,472.20" fill="none" stroke="#555" stroke-width="0.9" />
<polyline points="401.40,464.40 401.40,439.50 414.10,439.50 414.10,443.30" fill="none" stroke="#555" stroke-width="0.9" />
<text x="362.3" y="456.2" font-size="6.6" fill="#333" textLength="23.3" lengthAdjust="spacingAndGlyphs" stroke="#333" stroke-width="0.12"><tspan font-style="italic">P</tspan> = .008</text>
<text x="396.2" y="436.8" font-size="6.6" fill="#333" textLength="23.2" lengthAdjust="spacingAndGlyphs" stroke="#333" stroke-width="0.12"><tspan font-style="italic">P</tspan> = .026</text>
<circle cx="432.40" cy="448.10" r="1.0" fill="#1e2470"/>
<text x="436.5" y="450.60" font-size="7.1" fill="#2a2a2a" textLength="51.0" lengthAdjust="spacingAndGlyphs" stroke="#2a2a2a" stroke-width="0.12">NCI-H929 <tspan font-style="italic">TP53</tspan><tspan font-size="4.0" dy="-2.8">+/+</tspan></text>
<circle cx="432.40" cy="458.40" r="1.0" fill="#dc4535"/>
<text x="436.5" y="460.90" font-size="7.1" fill="#2a2a2a" textLength="51.0" lengthAdjust="spacingAndGlyphs" stroke="#2a2a2a" stroke-width="0.12">NCI-H929 <tspan font-style="italic">TP53</tspan><tspan font-size="4.0" dy="-2.8">&#8211;/&#8211;</tspan></text>
<circle cx="432.40" cy="468.10" r="1.0" fill="#1e2470"/>
<text x="436.5" y="470.60" font-size="7.1" fill="#2a2a2a" textLength="35.2" lengthAdjust="spacingAndGlyphs" stroke="#2a2a2a" stroke-width="0.12">XG7 <tspan font-style="italic">TP53</tspan><tspan font-size="4.0" dy="-2.8">+/+</tspan></text>
<circle cx="432.40" cy="478.80" r="1.0" fill="#dc4535"/>
<text x="436.5" y="481.30" font-size="7.1" fill="#2a2a2a" textLength="35.2" lengthAdjust="spacingAndGlyphs" stroke="#2a2a2a" stroke-width="0.12">XG7 <tspan font-style="italic">TP53</tspan><tspan font-size="4.0" dy="-2.8">&#8211;/&#8211;</tspan></text>
</svg>
<div class="frame"></div>
</body></html>
